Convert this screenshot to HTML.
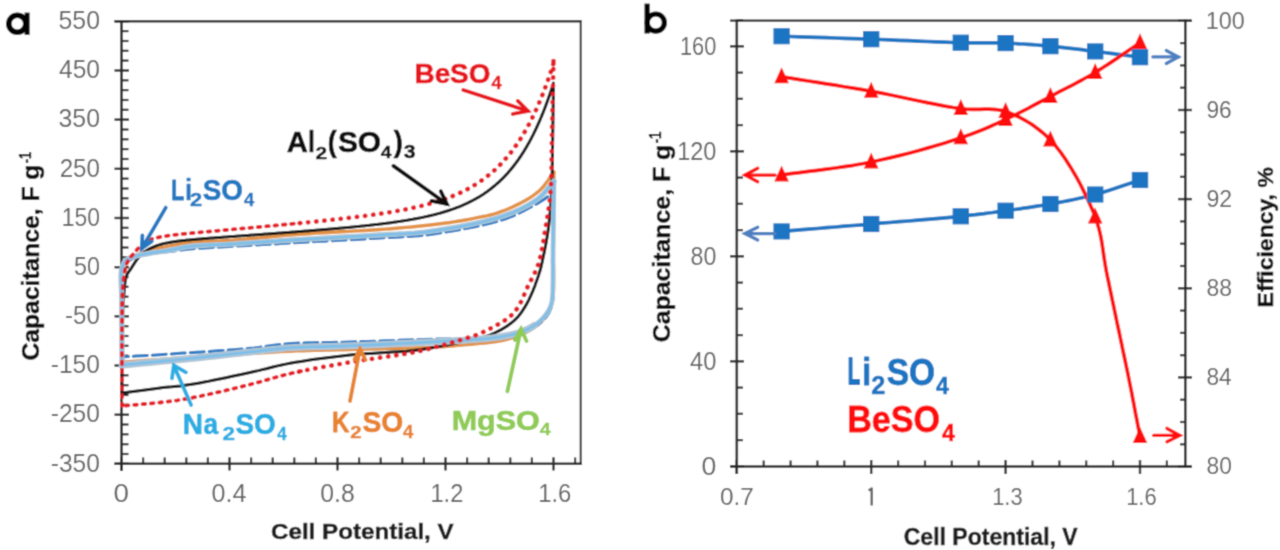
<!DOCTYPE html><html><head><meta charset="utf-8"><style>html,body{margin:0;padding:0;background:#fff;width:1280px;height:550px;overflow:hidden}svg{display:block}text{font-family:"Liberation Sans", sans-serif}</style></head><body>
<svg width="1280" height="550" viewBox="0 0 1280 550">
<defs><filter id="bl" x="0" y="0" width="1280" height="550" filterUnits="userSpaceOnUse"><feConvolveMatrix order="3" kernelMatrix="0.03240 0.11520 0.03240 0.11520 0.40960 0.11520 0.03240 0.11520 0.03240" edgeMode="duplicate" preserveAlpha="true"/></filter></defs><g filter="url(#bl)">
<rect width="1280" height="550" fill="#fff"/>
<line x1="114.5" y1="21.3" x2="581.0" y2="21.3" stroke="#2b2b2b" stroke-width="2.40" />
<line x1="580.7" y1="20.1" x2="580.7" y2="465.0" stroke="#2b2b2b" stroke-width="2.00" />
<line x1="121.5" y1="20.1" x2="121.5" y2="471.0" stroke="#2b2b2b" stroke-width="2.60" />
<line x1="114.5" y1="463.8" x2="581.8" y2="463.8" stroke="#2b2b2b" stroke-width="2.60" />
<line x1="114.5" y1="21.3" x2="129.0" y2="21.3" stroke="#2b2b2b" stroke-width="2.40" />
<line x1="121.5" y1="31.1" x2="128.5" y2="31.1" stroke="#2b2b2b" stroke-width="2.20" />
<line x1="121.5" y1="41.0" x2="128.5" y2="41.0" stroke="#2b2b2b" stroke-width="2.20" />
<line x1="121.5" y1="50.8" x2="128.5" y2="50.8" stroke="#2b2b2b" stroke-width="2.20" />
<line x1="121.5" y1="60.6" x2="128.5" y2="60.6" stroke="#2b2b2b" stroke-width="2.20" />
<line x1="114.5" y1="70.5" x2="129.0" y2="70.5" stroke="#2b2b2b" stroke-width="2.40" />
<line x1="121.5" y1="80.3" x2="128.5" y2="80.3" stroke="#2b2b2b" stroke-width="2.20" />
<line x1="121.5" y1="90.1" x2="128.5" y2="90.1" stroke="#2b2b2b" stroke-width="2.20" />
<line x1="121.5" y1="100.0" x2="128.5" y2="100.0" stroke="#2b2b2b" stroke-width="2.20" />
<line x1="121.5" y1="109.8" x2="128.5" y2="109.8" stroke="#2b2b2b" stroke-width="2.20" />
<line x1="114.5" y1="119.6" x2="129.0" y2="119.6" stroke="#2b2b2b" stroke-width="2.40" />
<line x1="121.5" y1="129.5" x2="128.5" y2="129.5" stroke="#2b2b2b" stroke-width="2.20" />
<line x1="121.5" y1="139.3" x2="128.5" y2="139.3" stroke="#2b2b2b" stroke-width="2.20" />
<line x1="121.5" y1="149.1" x2="128.5" y2="149.1" stroke="#2b2b2b" stroke-width="2.20" />
<line x1="121.5" y1="159.0" x2="128.5" y2="159.0" stroke="#2b2b2b" stroke-width="2.20" />
<line x1="114.5" y1="168.8" x2="129.0" y2="168.8" stroke="#2b2b2b" stroke-width="2.40" />
<line x1="121.5" y1="178.6" x2="128.5" y2="178.6" stroke="#2b2b2b" stroke-width="2.20" />
<line x1="121.5" y1="188.5" x2="128.5" y2="188.5" stroke="#2b2b2b" stroke-width="2.20" />
<line x1="121.5" y1="198.3" x2="128.5" y2="198.3" stroke="#2b2b2b" stroke-width="2.20" />
<line x1="121.5" y1="208.1" x2="128.5" y2="208.1" stroke="#2b2b2b" stroke-width="2.20" />
<line x1="114.5" y1="218.0" x2="129.0" y2="218.0" stroke="#2b2b2b" stroke-width="2.40" />
<line x1="121.5" y1="227.8" x2="128.5" y2="227.8" stroke="#2b2b2b" stroke-width="2.20" />
<line x1="121.5" y1="237.6" x2="128.5" y2="237.6" stroke="#2b2b2b" stroke-width="2.20" />
<line x1="121.5" y1="247.5" x2="128.5" y2="247.5" stroke="#2b2b2b" stroke-width="2.20" />
<line x1="121.5" y1="257.3" x2="128.5" y2="257.3" stroke="#2b2b2b" stroke-width="2.20" />
<line x1="114.5" y1="267.2" x2="129.0" y2="267.2" stroke="#2b2b2b" stroke-width="2.40" />
<line x1="121.5" y1="277.0" x2="128.5" y2="277.0" stroke="#2b2b2b" stroke-width="2.20" />
<line x1="121.5" y1="286.8" x2="128.5" y2="286.8" stroke="#2b2b2b" stroke-width="2.20" />
<line x1="121.5" y1="296.7" x2="128.5" y2="296.7" stroke="#2b2b2b" stroke-width="2.20" />
<line x1="121.5" y1="306.5" x2="128.5" y2="306.5" stroke="#2b2b2b" stroke-width="2.20" />
<line x1="114.5" y1="316.3" x2="129.0" y2="316.3" stroke="#2b2b2b" stroke-width="2.40" />
<line x1="121.5" y1="326.2" x2="128.5" y2="326.2" stroke="#2b2b2b" stroke-width="2.20" />
<line x1="121.5" y1="336.0" x2="128.5" y2="336.0" stroke="#2b2b2b" stroke-width="2.20" />
<line x1="121.5" y1="345.8" x2="128.5" y2="345.8" stroke="#2b2b2b" stroke-width="2.20" />
<line x1="121.5" y1="355.7" x2="128.5" y2="355.7" stroke="#2b2b2b" stroke-width="2.20" />
<line x1="114.5" y1="365.5" x2="129.0" y2="365.5" stroke="#2b2b2b" stroke-width="2.40" />
<line x1="121.5" y1="375.3" x2="128.5" y2="375.3" stroke="#2b2b2b" stroke-width="2.20" />
<line x1="121.5" y1="385.2" x2="128.5" y2="385.2" stroke="#2b2b2b" stroke-width="2.20" />
<line x1="121.5" y1="395.0" x2="128.5" y2="395.0" stroke="#2b2b2b" stroke-width="2.20" />
<line x1="121.5" y1="404.8" x2="128.5" y2="404.8" stroke="#2b2b2b" stroke-width="2.20" />
<line x1="114.5" y1="414.7" x2="129.0" y2="414.7" stroke="#2b2b2b" stroke-width="2.40" />
<line x1="121.5" y1="424.5" x2="128.5" y2="424.5" stroke="#2b2b2b" stroke-width="2.20" />
<line x1="121.5" y1="434.3" x2="128.5" y2="434.3" stroke="#2b2b2b" stroke-width="2.20" />
<line x1="121.5" y1="444.2" x2="128.5" y2="444.2" stroke="#2b2b2b" stroke-width="2.20" />
<line x1="121.5" y1="454.0" x2="128.5" y2="454.0" stroke="#2b2b2b" stroke-width="2.20" />
<line x1="114.5" y1="463.8" x2="129.0" y2="463.8" stroke="#2b2b2b" stroke-width="2.40" />
<line x1="121.5" y1="457.3" x2="121.5" y2="470.5" stroke="#2b2b2b" stroke-width="2.40" />
<line x1="143.1" y1="457.5" x2="143.1" y2="463.8" stroke="#2b2b2b" stroke-width="2.20" />
<line x1="164.7" y1="457.5" x2="164.7" y2="463.8" stroke="#2b2b2b" stroke-width="2.20" />
<line x1="186.3" y1="457.5" x2="186.3" y2="463.8" stroke="#2b2b2b" stroke-width="2.20" />
<line x1="207.9" y1="457.5" x2="207.9" y2="463.8" stroke="#2b2b2b" stroke-width="2.20" />
<line x1="229.5" y1="457.3" x2="229.5" y2="470.5" stroke="#2b2b2b" stroke-width="2.40" />
<line x1="251.1" y1="457.5" x2="251.1" y2="463.8" stroke="#2b2b2b" stroke-width="2.20" />
<line x1="272.7" y1="457.5" x2="272.7" y2="463.8" stroke="#2b2b2b" stroke-width="2.20" />
<line x1="294.3" y1="457.5" x2="294.3" y2="463.8" stroke="#2b2b2b" stroke-width="2.20" />
<line x1="315.9" y1="457.5" x2="315.9" y2="463.8" stroke="#2b2b2b" stroke-width="2.20" />
<line x1="337.5" y1="457.3" x2="337.5" y2="470.5" stroke="#2b2b2b" stroke-width="2.40" />
<line x1="359.1" y1="457.5" x2="359.1" y2="463.8" stroke="#2b2b2b" stroke-width="2.20" />
<line x1="380.7" y1="457.5" x2="380.7" y2="463.8" stroke="#2b2b2b" stroke-width="2.20" />
<line x1="402.3" y1="457.5" x2="402.3" y2="463.8" stroke="#2b2b2b" stroke-width="2.20" />
<line x1="423.9" y1="457.5" x2="423.9" y2="463.8" stroke="#2b2b2b" stroke-width="2.20" />
<line x1="445.5" y1="457.3" x2="445.5" y2="470.5" stroke="#2b2b2b" stroke-width="2.40" />
<line x1="467.1" y1="457.5" x2="467.1" y2="463.8" stroke="#2b2b2b" stroke-width="2.20" />
<line x1="488.7" y1="457.5" x2="488.7" y2="463.8" stroke="#2b2b2b" stroke-width="2.20" />
<line x1="510.3" y1="457.5" x2="510.3" y2="463.8" stroke="#2b2b2b" stroke-width="2.20" />
<line x1="531.9" y1="457.5" x2="531.9" y2="463.8" stroke="#2b2b2b" stroke-width="2.20" />
<line x1="553.5" y1="457.3" x2="553.5" y2="470.5" stroke="#2b2b2b" stroke-width="2.40" />
<line x1="575.1" y1="457.5" x2="575.1" y2="463.8" stroke="#2b2b2b" stroke-width="2.20" />
<text x="58.51" y="29.04" font-size="25.92" fill="#626262" font-weight="normal" textLength="41.45" lengthAdjust="spacingAndGlyphs" >550</text>
<text x="59.01" y="78.21" font-size="25.92" fill="#626262" font-weight="normal" textLength="40.94" lengthAdjust="spacingAndGlyphs" >450</text>
<text x="58.51" y="127.38" font-size="25.92" fill="#626262" font-weight="normal" textLength="41.45" lengthAdjust="spacingAndGlyphs" >350</text>
<text x="59.69" y="176.55" font-size="25.92" fill="#626262" font-weight="normal" textLength="40.23" lengthAdjust="spacingAndGlyphs" >250</text>
<text x="61.68" y="225.72" font-size="25.92" fill="#626262" font-weight="normal" textLength="38.20" lengthAdjust="spacingAndGlyphs" >150</text>
<text x="73.97" y="274.89" font-size="25.92" fill="#626262" font-weight="normal" textLength="25.90" lengthAdjust="spacingAndGlyphs" >50</text>
<text x="65.12" y="324.06" font-size="25.92" fill="#626262" font-weight="normal" textLength="34.73" lengthAdjust="spacingAndGlyphs" >-50</text>
<text x="50.80" y="373.23" font-size="25.92" fill="#626262" font-weight="normal" textLength="49.10" lengthAdjust="spacingAndGlyphs" >-150</text>
<text x="50.80" y="422.40" font-size="25.92" fill="#626262" font-weight="normal" textLength="49.10" lengthAdjust="spacingAndGlyphs" >-250</text>
<text x="50.80" y="471.57" font-size="25.92" fill="#626262" font-weight="normal" textLength="49.10" lengthAdjust="spacingAndGlyphs" >-350</text>
<text x="113.64" y="501.94" font-size="25.63" fill="#626262" font-weight="normal" textLength="15.47" lengthAdjust="spacingAndGlyphs" >0</text>
<text x="211.50" y="501.94" font-size="25.63" fill="#626262" font-weight="normal" textLength="34.86" lengthAdjust="spacingAndGlyphs" >0.4</text>
<text x="320.31" y="501.94" font-size="25.63" fill="#626262" font-weight="normal" textLength="34.49" lengthAdjust="spacingAndGlyphs" >0.8</text>
<text x="430.43" y="501.94" font-size="25.63" fill="#626262" font-weight="normal" textLength="32.86" lengthAdjust="spacingAndGlyphs" >1.2</text>
<text x="538.21" y="501.94" font-size="25.63" fill="#626262" font-weight="normal" textLength="33.15" lengthAdjust="spacingAndGlyphs" >1.6</text>
<text x="270.99" y="538.52" font-size="22.95" fill="#1c1c1c" font-weight="bold" textLength="182.69" lengthAdjust="spacingAndGlyphs"  stroke="#1c1c1c" stroke-width="0.51" stroke-linejoin="round">Cell Potential, V</text>
<g transform="translate(38.60,359.60) rotate(-90)">
<text x="-0.99" y="0.00" font-size="24.35" fill="#111" font-weight="bold" textLength="196.04" lengthAdjust="spacingAndGlyphs" stroke="#111" stroke-width="0.45">Capacitance, F g</text>
<text x="196.26" y="-8.08" font-size="16.01" fill="#111" font-weight="bold" textLength="11.47" lengthAdjust="spacingAndGlyphs"  stroke="#111" stroke-width="0.35" stroke-linejoin="round">-1</text>
</g>
<circle cx="17.3" cy="23.7" r="8.5" fill="none" stroke="#000" stroke-width="5.6"/>
<rect x="24.6" y="12.6" width="5" height="22.2" fill="#000"/>
<path d="M554.0,172.0 L554.0,179.9 L553.9,187.9 L553.9,196.0 L553.8,204.1 L553.8,212.2 L553.7,220.2 L553.7,228.0 L553.6,235.6 L553.6,243.0 L553.5,250.0 L553.5,255.4 L553.5,260.9 L553.6,266.3 L553.7,271.6 L553.7,276.7 L553.7,281.7 L553.7,286.3 L553.6,290.7 L553.3,294.6 L553.0,298.0 L552.8,299.5 L552.6,301.0 L552.4,302.3 L552.1,303.5 L551.9,304.6 L551.6,305.7 L551.3,306.8 L550.9,307.9 L550.5,308.9 L550.0,310.0 L549.5,311.1 L548.9,312.1 L548.3,313.2 L547.6,314.2 L546.9,315.2 L546.2,316.2 L545.5,317.2 L544.7,318.1 L543.8,319.1 L543.0,320.0 L542.1,321.0 L541.1,322.0 L540.0,322.9 L539.0,323.8 L537.9,324.8 L536.7,325.7 L535.6,326.5 L534.4,327.4 L533.2,328.2 L532.0,329.0 L530.7,329.8 L529.4,330.6 L528.1,331.4 L526.7,332.1 L525.3,332.8 L523.9,333.5 L522.5,334.1 L521.0,334.8 L519.5,335.4 L518.0,336.0 L516.3,336.6 L514.7,337.2 L513.0,337.8 L511.4,338.3 L509.6,338.8 L507.9,339.3 L506.0,339.7 L504.1,340.2 L502.1,340.6 L500.0,341.0 L496.6,341.6 L492.8,342.1 L488.8,342.6 L484.5,343.1 L480.2,343.5 L475.8,343.9 L471.5,344.3 L467.4,344.6 L463.5,345.0 L460.0,345.3 L457.8,345.5 L455.8,345.7 L454.0,345.9 L452.2,346.1 L450.5,346.2 L448.7,346.4 L446.8,346.5 L444.8,346.7 L442.6,346.8 L440.0,347.0 L433.5,347.3 L425.9,347.6 L417.2,347.9 L407.8,348.2 L397.9,348.4 L387.8,348.7 L377.7,348.9 L367.9,349.1 L358.6,349.4 L350.0,349.6 L343.6,349.8 L337.5,349.9 L331.6,350.1 L325.9,350.2 L320.2,350.3 L314.5,350.4 L308.7,350.6 L302.8,350.8 L296.6,351.0 L290.0,351.3 L280.9,351.7 L271.3,352.3 L261.3,352.9 L250.9,353.5 L240.4,354.2 L229.8,354.9 L219.4,355.6 L209.2,356.2 L199.3,356.9 L190.0,357.5 L182.7,358.0 L175.6,358.4 L168.6,358.9 L161.9,359.3 L155.2,359.8 L148.6,360.2 L142.0,360.7 L135.4,361.1 L128.7,361.6 L122.0,362.0" fill="none" stroke="#e39244" stroke-width="3.20" stroke-linejoin="round" stroke-linecap="round" />
<path d="M122.0,362.0 L122.0,355.7 L122.0,349.2 L122.0,342.6 L122.0,336.0 L121.9,329.5 L121.9,323.0 L121.9,316.8 L121.9,310.8 L122.0,305.2 L122.0,300.0 L122.0,296.7 L121.9,293.5 L121.9,290.3 L121.8,287.3 L121.7,284.4 L121.7,281.6 L121.7,279.0 L121.9,276.5 L122.1,274.2 L122.5,272.0 L122.8,270.8 L123.1,269.6 L123.4,268.5 L123.8,267.5 L124.2,266.5 L124.6,265.5 L125.1,264.6 L125.7,263.7 L126.3,262.9 L127.0,262.0 L127.9,261.0 L129.0,260.0 L130.2,259.1 L131.4,258.2 L132.7,257.3 L134.1,256.5 L135.5,255.7 L137.0,254.9 L138.5,254.2 L140.0,253.5 L141.8,252.8 L143.6,252.1 L145.5,251.5 L147.4,250.9 L149.4,250.4 L151.4,249.9 L153.5,249.4 L155.6,249.0 L157.8,248.5 L160.0,248.0 L162.7,247.4 L165.5,246.8 L168.4,246.2 L171.3,245.6 L174.3,245.1 L177.4,244.5 L180.5,244.0 L183.6,243.5 L186.8,243.1 L190.0,242.7 L193.7,242.3 L197.4,242.0 L201.2,241.8 L205.0,241.6 L208.9,241.5 L212.9,241.3 L217.0,241.2 L221.2,241.0 L225.5,240.8 L230.0,240.5 L236.2,240.0 L242.7,239.5 L249.4,238.8 L256.4,238.2 L263.5,237.5 L270.7,236.8 L278.0,236.1 L285.4,235.4 L292.7,234.8 L300.0,234.2 L307.9,233.7 L316.0,233.1 L324.2,232.7 L332.5,232.2 L340.8,231.8 L349.1,231.4 L357.2,230.9 L365.1,230.5 L372.7,230.0 L380.0,229.5 L385.5,229.1 L390.9,228.7 L396.1,228.3 L401.2,227.8 L406.1,227.4 L411.0,227.0 L415.8,226.5 L420.6,226.0 L425.3,225.5 L430.0,225.0 L434.1,224.5 L438.2,224.0 L442.1,223.5 L446.1,223.0 L450.0,222.5 L453.8,221.9 L457.7,221.3 L461.4,220.7 L465.2,220.0 L469.0,219.3 L472.6,218.6 L476.1,217.9 L479.6,217.2 L483.1,216.5 L486.6,215.8 L490.1,215.0 L493.5,214.1 L496.9,213.1 L500.3,211.9 L503.7,210.7 L507.3,209.2 L511.0,207.7 L514.7,205.9 L518.4,204.1 L522.1,202.2 L525.7,200.2 L529.1,198.2 L532.4,196.1 L535.4,193.9 L538.2,191.7 L540.2,189.9 L542.0,188.0 L543.7,186.1 L545.3,184.1 L546.8,182.1 L548.2,180.1 L549.6,178.0 L551.0,176.0 L552.5,174.0 L554.0,172.0" fill="none" stroke="#e39244" stroke-width="3.40" stroke-linejoin="round" stroke-linecap="round" />
<path d="M553.5,84.0 L553.4,90.7 L553.3,97.4 L553.2,104.2 L553.1,111.1 L553.0,117.9 L552.9,124.6 L552.8,131.2 L552.7,137.7 L552.6,144.0 L552.5,150.0 L552.4,154.7 L552.4,159.2 L552.3,163.7 L552.2,168.0 L552.2,172.2 L552.1,176.4 L552.0,180.6 L551.9,184.7 L551.7,188.9 L551.5,193.0 L551.3,196.9 L551.0,200.9 L550.7,204.8 L550.4,208.7 L550.1,212.6 L549.7,216.4 L549.3,220.2 L548.9,223.9 L548.5,227.5 L548.0,231.0 L547.6,233.9 L547.1,236.9 L546.6,239.8 L546.1,242.7 L545.6,245.5 L545.0,248.2 L544.5,250.9 L544.0,253.4 L543.5,255.8 L543.0,258.0 L542.7,259.4 L542.4,260.7 L542.2,262.0 L541.9,263.2 L541.6,264.4 L541.4,265.5 L541.1,266.7 L540.8,267.8 L540.5,268.9 L540.2,270.0 L539.9,271.0 L539.6,272.0 L539.3,273.0 L539.0,273.9 L538.7,274.9 L538.4,275.8 L538.1,276.8 L537.7,277.8 L537.4,278.8 L537.0,279.8 L536.6,281.0 L536.1,282.3 L535.6,283.6 L535.2,284.9 L534.7,286.3 L534.2,287.6 L533.6,288.9 L533.1,290.3 L532.6,291.6 L532.0,292.9 L531.4,294.2 L530.8,295.6 L530.2,296.9 L529.6,298.2 L529.0,299.6 L528.3,300.9 L527.6,302.2 L526.9,303.5 L526.2,304.7 L525.5,306.0 L524.8,307.2 L524.0,308.4 L523.2,309.6 L522.5,310.8 L521.6,312.0 L520.8,313.2 L520.0,314.3 L519.1,315.4 L518.2,316.5 L517.3,317.5 L516.4,318.4 L515.5,319.3 L514.5,320.2 L513.6,321.1 L512.6,321.9 L511.6,322.7 L510.5,323.5 L509.5,324.2 L508.5,325.0 L507.5,325.7 L506.6,326.4 L505.6,327.0 L504.7,327.6 L503.7,328.1 L502.7,328.7 L501.8,329.3 L500.8,329.8 L499.8,330.3 L498.8,330.9 L497.7,331.4 L496.5,332.0 L495.2,332.7 L493.8,333.3 L492.5,333.9 L491.1,334.5 L489.8,335.1 L488.4,335.7 L487.1,336.2 L485.8,336.7 L484.6,337.1 L483.7,337.4 L483.0,337.6 L482.3,337.7 L481.6,337.9 L480.9,338.0 L480.1,338.1 L479.4,338.3 L478.5,338.4 L477.5,338.6 L476.4,338.8 L472.8,339.5 L468.5,340.5 L463.4,341.6 L457.8,342.8 L451.8,344.0 L445.5,345.3 L439.0,346.6 L432.5,347.7 L426.1,348.8 L420.0,349.7 L413.3,350.5 L406.4,351.2 L399.4,351.7 L392.3,352.1 L385.2,352.6 L378.0,352.9 L370.8,353.4 L363.8,353.8 L356.8,354.3 L350.0,355.0 L343.7,355.7 L337.5,356.4 L331.3,357.2 L325.1,357.9 L318.9,358.7 L312.9,359.6 L306.9,360.5 L301.1,361.4 L295.5,362.3 L290.0,363.3 L285.7,364.1 L281.6,365.0 L277.6,365.9 L273.8,366.8 L270.0,367.7 L266.2,368.7 L262.3,369.6 L258.4,370.6 L254.3,371.5 L250.0,372.5 L244.4,373.7 L238.5,375.0 L232.3,376.3 L225.9,377.7 L219.5,379.0 L213.1,380.3 L206.9,381.6 L200.9,382.7 L195.2,383.7 L190.0,384.6 L186.6,385.1 L183.4,385.5 L180.4,385.9 L177.4,386.2 L174.6,386.5 L171.8,386.8 L168.9,387.0 L166.1,387.3 L163.1,387.6 L160.0,388.0 L156.4,388.4 L152.7,388.9 L148.9,389.4 L145.1,389.9 L141.3,390.4 L137.4,390.9 L133.5,391.5 L129.7,392.0 L125.8,392.5 L122.0,393.0" fill="none" stroke="#161616" stroke-width="3.00" stroke-linejoin="round" stroke-linecap="round" />
<path d="M122.0,393.0 L122.0,387.7 L122.0,382.3 L122.0,376.9 L122.0,371.4 L122.0,366.0 L122.0,360.7 L122.0,355.4 L122.1,350.1 L122.1,345.0 L122.2,340.0 L122.3,335.7 L122.3,331.5 L122.4,327.3 L122.5,323.1 L122.6,319.0 L122.7,315.0 L122.9,311.1 L123.0,307.3 L123.2,303.6 L123.5,300.0 L123.7,297.3 L123.9,294.6 L124.1,291.9 L124.3,289.3 L124.5,286.7 L124.8,284.3 L125.1,281.9 L125.5,279.8 L126.0,277.8 L126.5,276.0 L126.9,275.1 L127.2,274.2 L127.7,273.4 L128.1,272.7 L128.5,272.1 L129.0,271.4 L129.5,270.8 L130.0,270.1 L130.5,269.4 L131.0,268.6 L131.7,267.5 L132.4,266.4 L133.2,265.2 L134.0,263.9 L134.8,262.7 L135.6,261.5 L136.4,260.3 L137.3,259.1 L138.1,258.0 L139.0,257.0 L139.8,256.2 L140.5,255.4 L141.3,254.7 L142.1,254.0 L142.9,253.3 L143.7,252.6 L144.5,252.0 L145.3,251.4 L146.2,250.8 L147.0,250.3 L147.8,249.8 L148.6,249.3 L149.3,248.9 L150.1,248.5 L150.9,248.1 L151.8,247.7 L152.6,247.3 L153.4,247.0 L154.2,246.6 L155.0,246.3 L155.8,246.0 L156.6,245.7 L157.4,245.4 L158.2,245.1 L159.0,244.9 L159.8,244.7 L160.6,244.4 L161.4,244.2 L162.2,244.0 L163.0,243.8 L163.8,243.6 L164.6,243.4 L165.4,243.2 L166.2,243.1 L167.0,242.9 L167.8,242.8 L168.6,242.6 L169.4,242.5 L170.2,242.3 L171.0,242.2 L171.8,242.0 L172.6,241.9 L173.4,241.8 L174.2,241.7 L175.0,241.5 L175.8,241.4 L176.6,241.3 L177.4,241.2 L178.2,241.1 L179.0,241.0 L179.8,240.9 L180.6,240.8 L181.4,240.7 L182.2,240.6 L183.0,240.5 L183.8,240.5 L184.6,240.4 L185.4,240.3 L186.2,240.2 L187.0,240.1 L187.8,240.0 L188.6,240.0 L189.4,239.9 L190.2,239.8 L191.0,239.7 L191.8,239.7 L192.6,239.6 L193.4,239.5 L194.2,239.4 L195.0,239.4 L195.8,239.3 L196.6,239.2 L197.4,239.2 L198.2,239.1 L199.0,239.0 L199.8,239.0 L200.6,238.9 L201.4,238.8 L202.2,238.8 L203.0,238.7 L203.8,238.6 L204.6,238.6 L205.4,238.5 L206.2,238.4 L207.0,238.4 L207.8,238.3 L208.6,238.3 L209.4,238.2 L210.2,238.1 L211.0,238.1 L211.8,238.0 L212.6,238.0 L213.4,237.9 L214.2,237.8 L215.0,237.8 L215.8,237.7 L216.6,237.7 L217.4,237.6 L218.2,237.5 L219.0,237.5 L219.8,237.4 L220.6,237.4 L221.4,237.3 L222.2,237.2 L223.0,237.2 L223.8,237.1 L224.6,237.1 L225.4,237.0 L226.2,236.9 L227.0,236.9 L227.8,236.8 L228.6,236.8 L229.4,236.7 L230.2,236.6 L231.0,236.6 L231.8,236.5 L232.6,236.5 L233.4,236.4 L234.2,236.4 L235.0,236.3 L235.8,236.2 L236.6,236.2 L237.4,236.1 L238.2,236.1 L239.0,236.0 L239.8,236.0 L240.6,235.9 L241.4,235.8 L242.2,235.8 L243.0,235.7 L243.8,235.7 L244.6,235.6 L245.4,235.5 L246.2,235.5 L247.0,235.4 L247.8,235.4 L248.6,235.3 L249.4,235.3 L250.2,235.2 L251.0,235.1 L251.8,235.1 L252.6,235.0 L253.4,235.0 L254.2,234.9 L255.0,234.8 L255.8,234.8 L256.6,234.7 L257.4,234.7 L258.2,234.6 L259.0,234.6 L259.8,234.5 L260.6,234.4 L261.4,234.4 L262.2,234.3 L263.0,234.3 L263.8,234.2 L264.6,234.1 L265.4,234.1 L266.2,234.0 L267.0,234.0 L267.8,233.9 L268.6,233.8 L269.4,233.8 L270.2,233.7 L271.0,233.7 L271.8,233.6 L272.6,233.6 L273.4,233.5 L274.2,233.4 L275.0,233.4 L275.8,233.3 L276.6,233.3 L277.4,233.2 L278.2,233.1 L279.0,233.1 L279.8,233.0 L280.6,233.0 L281.4,232.9 L282.2,232.8 L283.0,232.8 L283.8,232.7 L284.6,232.7 L285.4,232.6 L286.2,232.5 L287.0,232.5 L287.8,232.4 L288.6,232.4 L289.4,232.3 L290.2,232.2 L291.0,232.2 L291.8,232.1 L292.6,232.0 L293.4,232.0 L294.2,231.9 L295.0,231.9 L295.8,231.8 L296.6,231.7 L297.4,231.7 L298.2,231.6 L299.0,231.6 L299.8,231.5 L300.6,231.4 L301.4,231.4 L302.2,231.3 L303.0,231.2 L303.8,231.2 L304.6,231.1 L305.4,231.1 L306.2,231.0 L307.0,230.9 L307.8,230.9 L308.6,230.8 L309.4,230.7 L310.2,230.7 L311.0,230.6 L311.8,230.5 L312.6,230.5 L313.4,230.4 L314.2,230.4 L315.0,230.3 L315.8,230.2 L316.6,230.2 L317.4,230.1 L318.2,230.0 L319.0,230.0 L319.8,229.9 L320.6,229.8 L321.4,229.8 L322.2,229.7 L323.0,229.6 L323.8,229.6 L324.6,229.5 L325.4,229.4 L326.2,229.4 L327.0,229.3 L327.8,229.2 L328.6,229.2 L329.4,229.1 L330.2,229.0 L331.0,229.0 L331.8,228.9 L332.6,228.8 L333.4,228.8 L334.2,228.7 L335.0,228.6 L335.8,228.5 L336.6,228.5 L337.4,228.4 L338.2,228.3 L339.0,228.3 L339.8,228.2 L340.6,228.1 L341.4,228.0 L342.2,228.0 L343.0,227.9 L343.8,227.8 L344.6,227.8 L345.4,227.7 L346.2,227.6 L347.0,227.5 L347.8,227.5 L348.6,227.4 L349.4,227.3 L350.2,227.2 L351.0,227.2 L351.8,227.1 L352.6,227.0 L353.4,226.9 L354.2,226.8 L355.0,226.8 L355.8,226.7 L356.6,226.6 L357.4,226.5 L358.2,226.4 L359.0,226.4 L359.8,226.3 L360.6,226.2 L361.4,226.1 L362.2,226.0 L363.0,226.0 L363.8,225.9 L364.6,225.8 L365.4,225.7 L366.2,225.6 L367.0,225.5 L367.8,225.4 L368.6,225.4 L369.4,225.3 L370.2,225.2 L371.0,225.1 L371.8,225.0 L372.6,224.9 L373.4,224.8 L374.2,224.7 L375.0,224.6 L375.8,224.6 L376.6,224.5 L377.4,224.4 L378.2,224.3 L379.0,224.2 L379.8,224.1 L380.6,224.0 L381.4,223.9 L382.2,223.8 L383.0,223.7 L383.8,223.6 L384.6,223.5 L385.4,223.4 L386.2,223.3 L387.0,223.2 L387.8,223.1 L388.6,223.0 L389.4,222.9 L390.2,222.8 L391.0,222.7 L391.8,222.5 L392.6,222.4 L393.4,222.3 L394.2,222.2 L395.0,222.1 L395.8,222.0 L396.6,221.9 L397.4,221.7 L398.2,221.6 L399.0,221.5 L399.8,221.4 L400.6,221.3 L401.4,221.1 L402.2,221.0 L403.0,220.9 L403.8,220.8 L404.6,220.6 L405.4,220.5 L406.2,220.4 L407.0,220.3 L407.8,220.1 L408.6,220.0 L409.4,219.8 L410.2,219.7 L411.0,219.6 L411.8,219.4 L412.6,219.3 L413.4,219.1 L414.2,219.0 L415.0,218.8 L415.8,218.7 L416.6,218.5 L417.4,218.4 L418.2,218.2 L419.0,218.1 L419.8,217.9 L420.6,217.8 L421.4,217.6 L422.2,217.4 L423.0,217.3 L423.8,217.1 L424.6,216.9 L425.4,216.7 L426.2,216.6 L427.0,216.4 L427.8,216.2 L428.6,216.0 L429.4,215.8 L430.2,215.7 L431.0,215.5 L431.8,215.3 L432.6,215.1 L433.4,214.9 L434.2,214.7 L435.0,214.5 L435.8,214.3 L436.6,214.1 L437.4,213.8 L438.2,213.6 L439.0,213.4 L439.8,213.2 L440.6,213.0 L441.4,212.7 L442.2,212.5 L443.0,212.3 L443.8,212.0 L444.6,211.8 L445.4,211.5 L446.2,211.3 L447.0,211.0 L447.8,210.8 L448.6,210.5 L449.4,210.3 L450.2,210.0 L451.0,209.7 L451.8,209.4 L452.6,209.2 L453.4,208.9 L454.2,208.6 L455.0,208.3 L455.8,208.0 L456.6,207.7 L457.4,207.4 L458.2,207.1 L459.0,206.8 L459.8,206.4 L460.6,206.1 L461.4,205.8 L462.2,205.4 L463.0,205.1 L463.8,204.7 L464.6,204.4 L465.4,204.0 L466.2,203.7 L467.0,203.3 L467.8,202.9 L468.6,202.5 L469.4,202.1 L470.2,201.7 L471.0,201.3 L471.8,200.9 L472.6,200.5 L473.4,200.1 L474.2,199.6 L475.0,199.2 L475.8,198.8 L476.6,198.3 L477.4,197.8 L478.2,197.4 L479.0,196.9 L479.8,196.4 L480.6,195.9 L481.4,195.4 L482.2,194.9 L483.0,194.4 L483.8,193.9 L484.6,193.3 L485.4,192.8 L486.2,192.2 L487.0,191.7 L487.8,191.1 L488.6,190.5 L489.4,189.9 L490.2,189.3 L491.0,188.7 L491.8,188.0 L492.7,187.3 L493.7,186.5 L494.6,185.8 L495.5,185.0 L496.4,184.2 L497.2,183.5 L497.9,182.9 L498.5,182.4 L499.0,181.9 L499.1,181.8 L499.3,181.7 L499.4,181.6 L499.4,181.5 L499.5,181.5 L499.6,181.4 L499.7,181.3 L499.8,181.2 L499.9,181.1 L500.0,181.0 L500.3,180.7 L500.6,180.4 L501.0,180.0 L501.4,179.6 L501.8,179.2 L502.3,178.8 L502.7,178.3 L503.2,177.9 L503.6,177.5 L504.0,177.1 L504.4,176.6 L504.8,176.2 L505.2,175.8 L505.6,175.4 L506.0,174.9 L506.4,174.5 L506.8,174.1 L507.2,173.6 L507.6,173.2 L508.0,172.8 L508.4,172.3 L508.8,171.8 L509.2,171.4 L509.6,170.9 L510.0,170.4 L510.4,170.0 L510.8,169.5 L511.2,169.0 L511.6,168.5 L512.0,168.0 L512.4,167.5 L512.8,167.0 L513.2,166.5 L513.6,166.0 L514.0,165.5 L514.4,165.0 L514.8,164.5 L515.2,163.9 L515.6,163.4 L516.0,162.9 L516.4,162.3 L516.8,161.8 L517.2,161.2 L517.6,160.7 L518.0,160.1 L518.4,159.6 L518.8,159.0 L519.2,158.4 L519.6,157.8 L520.0,157.3 L520.4,156.7 L520.8,156.1 L521.2,155.4 L521.6,154.8 L522.0,154.2 L522.4,153.6 L522.8,153.0 L523.2,152.4 L523.6,151.7 L524.0,151.1 L524.4,150.4 L524.8,149.8 L525.2,149.1 L525.6,148.4 L526.0,147.8 L526.4,147.1 L526.8,146.4 L527.2,145.7 L527.6,145.0 L528.0,144.3 L528.4,143.6 L528.8,142.9 L529.2,142.2 L529.6,141.4 L530.0,140.7 L530.4,139.9 L530.8,139.2 L531.2,138.5 L531.6,137.7 L532.0,136.9 L532.4,136.1 L532.8,135.4 L533.2,134.6 L533.6,133.8 L534.0,132.9 L534.4,132.1 L534.8,131.3 L535.2,130.5 L535.6,129.7 L536.0,128.8 L536.4,128.0 L536.8,127.1 L537.2,126.2 L537.6,125.3 L538.0,124.5 L538.4,123.6 L538.8,122.7 L539.2,121.8 L539.6,120.9 L540.0,119.9 L540.4,119.0 L540.8,118.0 L541.2,117.1 L541.6,116.1 L542.0,115.1 L542.4,114.2 L542.8,113.2 L543.2,112.2 L543.6,111.2 L544.0,110.2 L544.4,109.2 L544.8,108.1 L545.2,107.1 L545.6,106.0 L546.0,104.9 L546.4,103.9 L546.8,102.8 L547.2,101.7 L547.6,100.6 L548.0,99.5 L548.4,98.3 L548.8,97.1 L549.3,95.9 L549.7,94.6 L550.1,93.4 L550.6,92.1 L551.0,90.9 L551.3,89.8 L551.7,88.8 L552.0,87.8 L552.2,87.2 L552.4,86.7 L552.5,86.2 L552.7,85.8 L552.8,85.3 L552.9,84.9 L553.1,84.5 L553.2,84.0 L553.4,83.6 L553.5,83.1" fill="none" stroke="#161616" stroke-width="3.00" stroke-linejoin="round" stroke-linecap="round" />
<path d="M553.0,192.0 L552.9,197.8 L552.9,203.7 L552.8,209.6 L552.7,215.5 L552.7,221.3 L552.6,227.2 L552.6,233.0 L552.5,238.8 L552.5,244.4 L552.5,250.0 L552.5,255.2 L552.6,260.5 L552.8,266.0 L552.9,271.5 L553.1,276.8 L553.2,281.9 L553.3,286.7 L553.3,291.1 L553.2,294.9 L553.0,298.0 L552.9,299.1 L552.8,300.0 L552.7,300.9 L552.6,301.7 L552.4,302.4 L552.3,303.1 L552.1,303.8 L551.9,304.5 L551.7,305.2 L551.5,306.0 L551.2,306.9 L550.9,307.8 L550.6,308.7 L550.2,309.7 L549.8,310.6 L549.4,311.5 L549.0,312.4 L548.5,313.3 L548.0,314.2 L547.5,315.0 L546.9,315.9 L546.2,316.7 L545.6,317.6 L544.8,318.4 L544.1,319.2 L543.3,320.0 L542.5,320.7 L541.7,321.5 L540.8,322.3 L540.0,323.0 L539.1,323.8 L538.2,324.5 L537.2,325.3 L536.2,326.0 L535.2,326.7 L534.2,327.4 L533.2,328.1 L532.1,328.8 L531.1,329.4 L530.0,330.0 L528.9,330.6 L527.7,331.2 L526.6,331.7 L525.4,332.3 L524.2,332.8 L522.9,333.3 L521.7,333.8 L520.5,334.2 L519.2,334.6 L518.0,335.0 L516.7,335.4 L515.5,335.7 L514.2,336.0 L512.9,336.2 L511.6,336.5 L510.3,336.7 L509.0,336.9 L507.7,337.1 L506.3,337.3 L505.0,337.5 L503.6,337.7 L502.2,337.9 L500.9,338.1 L499.5,338.2 L498.1,338.4 L496.7,338.5 L495.2,338.7 L493.6,338.8 L491.9,338.9 L490.0,339.0 L486.3,339.1 L482.1,339.2 L477.6,339.2 L472.8,339.2 L467.7,339.1 L462.5,339.0 L457.0,339.0 L451.4,338.9 L445.7,338.9 L440.0,339.0 L432.0,339.2 L423.4,339.4 L414.4,339.7 L405.0,340.0 L395.5,340.4 L386.0,340.7 L376.5,341.1 L367.3,341.4 L358.4,341.7 L350.0,342.0 L343.5,342.2 L337.0,342.3 L330.7,342.4 L324.5,342.5 L318.5,342.6 L312.5,342.7 L306.7,342.8 L301.0,343.0 L295.4,343.3 L290.0,343.6 L285.7,344.0 L281.6,344.4 L277.7,344.8 L273.8,345.3 L270.0,345.8 L266.2,346.3 L262.3,346.9 L258.4,347.4 L254.3,347.9 L250.0,348.3 L244.5,348.8 L238.8,349.3 L233.0,349.7 L227.1,350.2 L221.0,350.6 L214.9,351.0 L208.7,351.5 L202.4,351.9 L196.2,352.3 L190.0,352.7 L183.4,353.1 L176.7,353.6 L169.9,354.0 L163.1,354.4 L156.3,354.9 L149.4,355.3 L142.5,355.7 L135.7,356.1 L128.8,356.6 L122.0,357.0" fill="none" stroke="#2a7cc4" stroke-width="3.00" stroke-linejoin="round" stroke-linecap="round" stroke-dasharray="14 5" stroke-linecap="butt"/>
<path d="M122.0,357.0 L121.9,351.2 L121.9,345.3 L121.8,339.3 L121.7,333.3 L121.7,327.4 L121.6,321.5 L121.5,315.8 L121.5,310.2 L121.5,305.0 L121.5,300.0 L121.5,296.5 L121.4,293.1 L121.2,289.7 L121.1,286.4 L120.9,283.2 L120.9,280.1 L120.9,277.3 L121.1,274.6 L121.5,272.2 L122.0,270.0 L122.4,268.9 L122.9,267.8 L123.3,266.9 L123.9,266.0 L124.4,265.1 L125.1,264.3 L125.7,263.6 L126.4,262.9 L127.2,262.2 L128.0,261.5 L129.0,260.7 L130.1,260.0 L131.2,259.3 L132.5,258.7 L133.7,258.1 L135.1,257.5 L136.5,257.0 L137.9,256.5 L139.4,256.0 L141.0,255.5 L143.4,254.9 L146.0,254.3 L148.9,253.9 L151.8,253.5 L154.9,253.1 L157.9,252.8 L161.0,252.5 L164.0,252.1 L166.9,251.8 L169.6,251.5 L171.7,251.2 L173.8,250.9 L175.8,250.7 L177.7,250.4 L179.6,250.2 L181.5,249.9 L183.5,249.7 L185.5,249.4 L187.7,249.2 L190.0,249.0 L193.4,248.7 L197.0,248.4 L200.7,248.2 L204.5,247.9 L208.5,247.7 L212.6,247.5 L216.8,247.2 L221.1,247.0 L225.5,246.8 L230.0,246.5 L236.2,246.1 L242.7,245.8 L249.4,245.4 L256.4,245.0 L263.5,244.6 L270.7,244.2 L278.0,243.7 L285.4,243.3 L292.7,242.9 L300.0,242.5 L307.9,242.1 L316.0,241.6 L324.2,241.2 L332.5,240.7 L340.8,240.3 L349.1,239.8 L357.2,239.4 L365.1,238.9 L372.7,238.4 L380.0,238.0 L385.4,237.7 L390.6,237.4 L395.6,237.2 L400.4,237.0 L405.2,236.7 L409.9,236.5 L414.7,236.1 L419.6,235.7 L424.7,235.2 L430.0,234.5 L437.0,233.5 L444.5,232.3 L452.3,231.0 L460.3,229.6 L468.4,228.1 L476.3,226.5 L484.0,224.8 L491.2,223.0 L497.8,221.3 L503.7,219.5 L507.0,218.4 L510.0,217.2 L512.9,216.0 L515.6,214.8 L518.2,213.6 L520.7,212.4 L523.1,211.2 L525.4,209.9 L527.7,208.7 L530.0,207.5 L531.8,206.5 L533.6,205.6 L535.4,204.6 L537.1,203.6 L538.7,202.7 L540.3,201.7 L541.9,200.8 L543.3,199.8 L544.7,198.9 L546.0,198.0 L546.8,197.4 L547.6,196.8 L548.4,196.2 L549.1,195.6 L549.7,195.0 L550.4,194.4 L551.0,193.8 L551.7,193.2 L552.3,192.6 L553.0,192.0" fill="none" stroke="#2a7cc4" stroke-width="3.00" stroke-linejoin="round" stroke-linecap="round" stroke-dasharray="14 5" stroke-linecap="butt"/>
<path d="M534.2,325.4 L533.2,326.1 L532.1,326.8 L531.1,327.4 L530.0,328.0 L528.9,328.6 L527.7,329.2 L526.6,329.7 L525.4,330.3 L524.2,330.8 L522.9,331.3 L521.7,331.7 L520.5,332.2 L519.2,332.6 L518.0,333.0 L516.7,333.4 L515.5,333.7 L514.2,334.1 L512.9,334.4 L511.6,334.7 L510.3,335.0 L509.0,335.2 L507.7,335.5 L506.3,335.7 L505.0,336.0 L503.6,336.3 L502.2,336.5 L500.8,336.8 L499.3,337.0 L497.9,337.2 L496.4,337.4 L494.9,337.6 L493.4,337.8 L491.7,338.0 L490.0,338.2 L487.5,338.5 L485.0,338.7 L482.4,338.9 L479.7,339.1 L476.8,339.3 L473.9,339.5 L470.7,339.7 L467.4,339.9 L463.8,340.2 L460.0,340.4 L451.6,340.9 L441.9,341.4 L431.0,342.0 L419.4,342.6 L407.3,343.2 L394.9,343.8 L382.7,344.4 L371.0,344.9 L360.0,345.4 L350.0,345.8 L343.2,346.1 L336.7,346.3 L330.3,346.4 L324.1,346.6 L318.1,346.7 L312.3,346.8 L306.5,347.0 L300.9,347.2 L295.4,347.5 L290.0,347.8 L285.7,348.1 L281.6,348.5 L277.7,348.9 L273.8,349.3 L270.0,349.7 L266.2,350.1 L262.3,350.6 L258.4,351.1 L254.3,351.5 L250.0,352.0 L244.5,352.6 L238.8,353.2 L233.0,353.9 L227.1,354.5 L221.0,355.2 L214.9,355.9 L208.7,356.5 L202.4,357.2 L196.2,357.9 L190.0,358.5 L183.4,359.2 L176.7,359.8 L169.9,360.5 L163.1,361.1 L156.3,361.8 L149.4,362.4 L142.5,363.1 L135.7,363.7 L128.8,364.4 L122.0,365.0" fill="none" stroke="#b0c4d4" stroke-width="7.0" stroke-linecap="round" stroke-linejoin="round"/>
<path d="M554.0,181.0 L553.9,188.0 L553.8,195.0 L553.7,202.1 L553.6,209.3 L553.5,216.4 L553.4,223.4 L553.3,230.3 L553.2,237.1 L553.1,243.7 L553.0,250.0 L553.0,255.1 L552.9,260.4 L553.0,265.6 L553.0,270.8 L553.0,275.8 L553.0,280.6 L552.9,285.1 L552.8,289.2 L552.7,292.9 L552.5,296.0 L552.4,297.2 L552.3,298.3 L552.2,299.2 L552.1,300.2 L552.0,301.0 L551.8,301.8 L551.7,302.6 L551.5,303.4 L551.3,304.2 L551.0,305.0 L550.7,305.8 L550.4,306.7 L550.1,307.5 L549.7,308.3 L549.3,309.1 L548.9,309.9 L548.4,310.7 L548.0,311.5 L547.5,312.2 L547.0,313.0 L546.4,313.8 L545.8,314.7 L545.2,315.5 L544.5,316.3 L543.8,317.1 L543.1,317.9 L542.4,318.7 L541.6,319.5 L540.8,320.3 L540.0,321.0 L539.1,321.8 L538.2,322.5 L537.2,323.3 L536.3,324.0 L535.3,324.7 L534.2,325.4 L533.2,326.1 L532.1,326.8 L531.1,327.4 L530.0,328.0 L528.9,328.6 L527.7,329.2 L526.6,329.7 L525.4,330.3 L524.2,330.8 L522.9,331.3 L521.7,331.7 L520.5,332.2 L519.2,332.6 L518.0,333.0 L516.7,333.4 L515.5,333.7 L514.2,334.1 L512.9,334.4 L511.6,334.7 L510.3,335.0" fill="none" stroke="#b0c4d4" stroke-width="4.8" stroke-linecap="round" stroke-linejoin="round"/>
<path d="M122.0,366.0 L122.0,359.3 L122.0,352.4 L121.9,345.5 L121.9,338.5 L121.9,331.5 L121.8,324.7 L121.8,318.1 L121.8,311.7 L121.8,305.6 L121.8,300.0 L121.8,296.2 L121.6,292.5 L121.5,288.9 L121.3,285.3 L121.2,281.9 L121.1,278.7 L121.1,275.7 L121.2,272.8 L121.5,270.3 L122.0,268.0 L122.3,266.9 L122.7,265.8 L123.1,264.8 L123.6,263.9 L124.0,263.0 L124.5,262.2 L125.1,261.5 L125.7,260.8 L126.3,260.1 L127.0,259.5 L127.7,258.9 L128.5,258.5 L129.3,258.1 L130.2,257.7 L131.1,257.4 L132.0,257.1 L133.0,256.8 L134.0,256.6 L135.0,256.3 L136.0,256.0 L137.3,255.7 L138.6,255.3 L139.9,255.0 L141.3,254.7 L142.7,254.5 L144.1,254.2 L145.6,254.0 L147.0,253.7 L148.5,253.5 L150.0,253.2 L151.7,252.9 L153.4,252.6 L155.2,252.4 L156.9,252.1 L158.7,251.9 L160.6,251.6 L162.4,251.4 L164.3,251.1 L166.1,250.8 L168.0,250.5 L170.1,250.1 L172.2,249.7 L174.2,249.3 L176.3,248.8 L178.4,248.4 L180.6,247.9 L182.8,247.5 L185.1,247.1 L187.5,246.7 L190.0,246.4 L193.5,246.0 L197.0,245.7 L200.8,245.5 L204.6,245.3 L208.6,245.1 L212.6,244.9 L216.8,244.7 L221.1,244.6 L225.5,244.4 L230.0,244.1 L236.2,243.7 L242.7,243.3 L249.4,242.9 L256.4,242.4 L263.5,241.9 L270.7,241.5 L278.0,241.0 L285.4,240.5 L292.7,240.0 L300.0,239.6 L307.9,239.1 L316.0,238.7 L324.2,238.2 L332.5,237.7 L340.8,237.3 L349.1,236.8 L357.2,236.4 L365.1,235.9 L372.7,235.5 L380.0,235.0 L385.4,234.7 L390.6,234.4 L395.6,234.2 L400.4,233.9 L405.2,233.7 L409.9,233.4 L414.7,233.1 L419.6,232.6 L424.7,232.1 L430.0,231.4 L437.0,230.4 L444.3,229.2 L452.0,228.0 L459.9,226.6 L467.9,225.0 L475.7,223.4 L483.3,221.7 L490.6,219.8 L497.5,217.9 L503.7,215.9 L507.8,214.4 L511.8,212.9 L515.7,211.3 L519.4,209.6 L522.9,207.9 L526.3,206.2 L529.5,204.4 L532.6,202.5 L535.5,200.6 L538.2,198.6 L540.2,197.0 L542.0,195.3 L543.7,193.6 L545.2,191.8 L546.7,190.0 L548.2,188.2 L549.6,186.4 L551.0,184.6 L552.5,182.8 L554.0,181.0" fill="none" stroke="#b0c4d4" stroke-width="5.40" stroke-linejoin="round" stroke-linecap="round" />
<path d="M554.0,181.0 L553.9,188.0 L553.8,195.0 L553.7,202.1 L553.6,209.3 L553.5,216.4 L553.4,223.4 L553.3,230.3 L553.2,237.1 L553.1,243.7 L553.0,250.0 L553.0,255.1 L552.9,260.4 L553.0,265.6 L553.0,270.8 L553.0,275.8 L553.0,280.6 L552.9,285.1 L552.8,289.2 L552.7,292.9 L552.5,296.0 L552.4,297.2 L552.3,298.3 L552.2,299.2 L552.1,300.2 L552.0,301.0 L551.8,301.8 L551.7,302.6 L551.5,303.4 L551.3,304.2 L551.0,305.0 L550.7,305.8 L550.4,306.7 L550.1,307.5 L549.7,308.3 L549.3,309.1 L548.9,309.9 L548.4,310.7 L548.0,311.5 L547.5,312.2 L547.0,313.0 L546.4,313.8 L545.8,314.7 L545.2,315.5 L544.5,316.3 L543.8,317.1 L543.1,317.9 L542.4,318.7 L541.6,319.5 L540.8,320.3 L540.0,321.0 L539.1,321.8 L538.2,322.5 L537.2,323.3 L536.3,324.0 L535.3,324.7 L534.2,325.4 L533.2,326.1 L532.1,326.8 L531.1,327.4 L530.0,328.0 L528.9,328.6 L527.7,329.2 L526.6,329.7 L525.4,330.3 L524.2,330.8 L522.9,331.3 L521.7,331.7 L520.5,332.2 L519.2,332.6 L518.0,333.0 L516.7,333.4 L515.5,333.7 L514.2,334.1 L512.9,334.4 L511.6,334.7 L510.3,335.0 L509.0,335.2 L507.7,335.5 L506.3,335.7 L505.0,336.0 L503.6,336.3 L502.2,336.5 L500.8,336.8 L499.3,337.0 L497.9,337.2 L496.4,337.4 L494.9,337.6 L493.4,337.8 L491.7,338.0 L490.0,338.2 L487.5,338.5 L485.0,338.7 L482.4,338.9 L479.7,339.1 L476.8,339.3 L473.9,339.5 L470.7,339.7 L467.4,339.9 L463.8,340.2 L460.0,340.4 L451.6,340.9 L441.9,341.4 L431.0,342.0 L419.4,342.6 L407.3,343.2 L394.9,343.8 L382.7,344.4 L371.0,344.9 L360.0,345.4 L350.0,345.8 L343.2,346.1 L336.7,346.3 L330.3,346.4 L324.1,346.6 L318.1,346.7 L312.3,346.8 L306.5,347.0 L300.9,347.2 L295.4,347.5 L290.0,347.8 L285.7,348.1 L281.6,348.5 L277.7,348.9 L273.8,349.3 L270.0,349.7 L266.2,350.1 L262.3,350.6 L258.4,351.1 L254.3,351.5 L250.0,352.0 L244.5,352.6 L238.8,353.2 L233.0,353.9 L227.1,354.5 L221.0,355.2 L214.9,355.9 L208.7,356.5 L202.4,357.2 L196.2,357.9 L190.0,358.5 L183.4,359.2 L176.7,359.8 L169.9,360.5 L163.1,361.1 L156.3,361.8 L149.4,362.4 L142.5,363.1 L135.7,363.7 L128.8,364.4 L122.0,365.0" fill="none" stroke="#7cc0ea" stroke-width="2.60" stroke-linejoin="round" stroke-linecap="round" />
<path d="M122.0,366.0 L122.0,359.3 L122.0,352.4 L121.9,345.5 L121.9,338.5 L121.9,331.5 L121.8,324.7 L121.8,318.1 L121.8,311.7 L121.8,305.6 L121.8,300.0 L121.8,296.2 L121.6,292.5 L121.5,288.9 L121.3,285.3 L121.2,281.9 L121.1,278.7 L121.1,275.7 L121.2,272.8 L121.5,270.3 L122.0,268.0 L122.3,266.9 L122.7,265.8 L123.1,264.8 L123.6,263.9 L124.0,263.0 L124.5,262.2 L125.1,261.5 L125.7,260.8 L126.3,260.1 L127.0,259.5 L127.7,258.9 L128.5,258.5 L129.3,258.1 L130.2,257.7 L131.1,257.4 L132.0,257.1 L133.0,256.8 L134.0,256.6 L135.0,256.3 L136.0,256.0 L137.3,255.7 L138.6,255.3 L139.9,255.0 L141.3,254.7 L142.7,254.5 L144.1,254.2 L145.6,254.0 L147.0,253.7 L148.5,253.5 L150.0,253.2 L151.7,252.9 L153.4,252.6 L155.2,252.4 L156.9,252.1 L158.7,251.9 L160.6,251.6 L162.4,251.4 L164.3,251.1 L166.1,250.8 L168.0,250.5 L170.1,250.1 L172.2,249.7 L174.2,249.3 L176.3,248.8 L178.4,248.4 L180.6,247.9 L182.8,247.5 L185.1,247.1 L187.5,246.7 L190.0,246.4 L193.5,246.0 L197.0,245.7 L200.8,245.5 L204.6,245.3 L208.6,245.1 L212.6,244.9 L216.8,244.7 L221.1,244.6 L225.5,244.4 L230.0,244.1 L236.2,243.7 L242.7,243.3 L249.4,242.9 L256.4,242.4 L263.5,241.9 L270.7,241.5 L278.0,241.0 L285.4,240.5 L292.7,240.0 L300.0,239.6 L307.9,239.1 L316.0,238.7 L324.2,238.2 L332.5,237.7 L340.8,237.3 L349.1,236.8 L357.2,236.4 L365.1,235.9 L372.7,235.5 L380.0,235.0 L385.4,234.7 L390.6,234.4 L395.6,234.2 L400.4,233.9 L405.2,233.7 L409.9,233.4 L414.7,233.1 L419.6,232.6 L424.7,232.1 L430.0,231.4 L437.0,230.4 L444.3,229.2 L452.0,228.0 L459.9,226.6 L467.9,225.0 L475.7,223.4 L483.3,221.7 L490.6,219.8 L497.5,217.9 L503.7,215.9 L507.8,214.4 L511.8,212.9 L515.7,211.3 L519.4,209.6 L522.9,207.9 L526.3,206.2 L529.5,204.4 L532.6,202.5 L535.5,200.6 L538.2,198.6 L540.2,197.0 L542.0,195.3 L543.7,193.6 L545.2,191.8 L546.7,190.0 L548.2,188.2 L549.6,186.4 L551.0,184.6 L552.5,182.8 L554.0,181.0" fill="none" stroke="#7cc0ea" stroke-width="2.60" stroke-linejoin="round" stroke-linecap="round" />
<path d="M122.0,406.0 L122.0,398.3 L122.0,390.5 L122.0,382.6 L121.9,374.6 L121.9,366.8 L121.9,359.0 L121.9,351.3 L121.9,343.9 L121.9,336.8 L122.0,330.0 L122.0,325.0 L122.1,320.0 L122.1,315.1 L122.1,310.4 L122.1,305.8 L122.2,301.3 L122.3,296.9 L122.4,292.8 L122.7,288.8 L123.0,285.0 L123.3,282.4 L123.5,279.9 L123.8,277.5 L124.1,275.2 L124.4,272.9 L124.8,270.8 L125.2,268.7 L125.7,266.7 L126.3,264.8 L127.0,263.0 L127.6,261.7 L128.3,260.4 L129.1,259.2 L129.9,258.1 L130.7,257.1 L131.5,256.0 L132.4,255.0 L133.3,254.0 L134.2,253.0 L135.0,252.0 L135.8,251.1 L136.5,250.2 L137.3,249.3 L138.1,248.4 L138.9,247.5 L139.7,246.7 L140.5,245.8 L141.3,245.1 L142.2,244.4 L143.0,243.7 L143.8,243.1 L144.5,242.6 L145.3,242.2 L146.1,241.7 L146.9,241.3 L147.7,240.9 L148.5,240.5 L149.4,240.2 L150.2,239.8 L151.0,239.5 L151.8,239.2 L152.6,238.9 L153.4,238.7 L154.2,238.5 L155.0,238.2 L155.8,238.0 L156.6,237.8 L157.4,237.6 L158.2,237.4 L159.0,237.3 L159.8,237.1 L160.6,236.9 L161.4,236.8 L162.2,236.6 L163.0,236.5 L163.8,236.3 L164.6,236.2 L165.4,236.1 L166.2,236.0 L167.0,235.8 L167.8,235.7 L168.6,235.6 L169.4,235.5 L170.2,235.4 L171.0,235.3 L171.8,235.2 L172.6,235.1 L173.4,235.0 L174.2,234.9 L175.0,234.8 L175.8,234.7 L176.6,234.6 L177.4,234.5 L178.2,234.4 L179.0,234.4 L179.8,234.3 L180.6,234.2 L181.4,234.1 L182.2,234.0 L183.0,233.9 L183.8,233.9 L184.6,233.8 L185.4,233.7 L186.2,233.6 L187.0,233.6 L187.8,233.5 L188.6,233.4 L189.4,233.3 L190.2,233.2 L191.0,233.2 L191.8,233.1 L192.6,233.0 L193.4,232.9 L194.2,232.9 L195.0,232.8 L195.8,232.7 L196.6,232.6 L197.4,232.6 L198.2,232.5 L199.0,232.4 L199.8,232.4 L200.6,232.3 L201.4,232.2 L202.2,232.1 L203.0,232.1 L203.8,232.0 L204.6,231.9 L205.4,231.8 L206.2,231.8 L207.0,231.7 L207.8,231.6 L208.6,231.6 L209.4,231.5 L210.2,231.4 L211.0,231.3 L211.8,231.3 L212.6,231.2 L213.4,231.1 L214.2,231.0 L215.0,231.0 L215.8,230.9 L216.6,230.8 L217.4,230.8 L218.2,230.7 L219.0,230.6 L219.8,230.5 L220.6,230.5 L221.4,230.4 L222.2,230.3 L223.0,230.3 L223.8,230.2 L224.6,230.1 L225.4,230.0 L226.2,230.0 L227.0,229.9 L227.8,229.8 L228.6,229.7 L229.4,229.7 L230.2,229.6 L231.0,229.5 L231.8,229.5 L232.6,229.4 L233.4,229.3 L234.2,229.2 L235.0,229.2 L235.8,229.1 L236.6,229.0 L237.4,228.9 L238.2,228.9 L239.0,228.8 L239.8,228.7 L240.6,228.7 L241.4,228.6 L242.2,228.5 L243.0,228.4 L243.8,228.4 L244.6,228.3 L245.4,228.2 L246.2,228.1 L247.0,228.1 L247.8,228.0 L248.6,227.9 L249.4,227.9 L250.2,227.8 L251.0,227.7 L251.8,227.6 L252.6,227.6 L253.4,227.5 L254.2,227.4 L255.0,227.3 L255.8,227.3 L256.6,227.2 L257.4,227.1 L258.2,227.0 L259.0,227.0 L259.8,226.9 L260.6,226.8 L261.4,226.7 L262.2,226.7 L263.0,226.6 L263.8,226.5 L264.6,226.5 L265.4,226.4 L266.2,226.3 L267.0,226.2 L267.8,226.2 L268.6,226.1 L269.4,226.0 L270.2,225.9 L271.0,225.9 L271.8,225.8 L272.6,225.7 L273.4,225.6 L274.2,225.6 L275.0,225.5 L275.8,225.4 L276.6,225.3 L277.4,225.3 L278.2,225.2 L279.0,225.1 L279.8,225.0 L280.6,225.0 L281.4,224.9 L282.2,224.8 L283.0,224.7 L283.8,224.6 L284.6,224.6 L285.4,224.5 L286.2,224.4 L287.0,224.3 L287.8,224.3 L288.6,224.2 L289.4,224.1 L290.2,224.0 L291.0,224.0 L291.8,223.9 L292.6,223.8 L293.4,223.7 L294.2,223.6 L295.0,223.6 L295.8,223.5 L296.6,223.4 L297.4,223.3 L298.2,223.3 L299.0,223.2 L299.8,223.1 L300.6,223.0" fill="none" stroke="#e51d25" stroke-width="3.80" stroke-linecap="round" stroke-linejoin="round" stroke-dasharray="2.6 5.8"/>
<path d="M299.8,223.1 L300.6,223.0 L301.4,222.9 L302.2,222.9 L303.0,222.8 L303.8,222.7 L304.6,222.6 L305.4,222.5 L306.2,222.5 L307.0,222.4 L307.8,222.3 L308.6,222.2 L309.4,222.1 L310.2,222.1 L311.0,222.0 L311.8,221.9 L312.6,221.8 L313.4,221.7 L314.2,221.7 L315.0,221.6 L315.8,221.5 L316.6,221.4 L317.4,221.3 L318.2,221.2 L319.0,221.2 L319.8,221.1 L320.6,221.0 L321.4,220.9 L322.2,220.8 L323.0,220.7 L323.8,220.7 L324.6,220.6 L325.4,220.5 L326.2,220.4 L327.0,220.3 L327.8,220.2 L328.6,220.2 L329.4,220.1 L330.2,220.0 L331.0,219.9 L331.8,219.8 L332.6,219.7 L333.4,219.6 L334.2,219.5 L335.0,219.5 L335.8,219.4 L336.6,219.3 L337.4,219.2 L338.2,219.1 L339.0,219.0 L339.8,218.9 L340.6,218.8 L341.4,218.7 L342.2,218.6 L343.0,218.6 L343.8,218.5 L344.6,218.4 L345.4,218.3 L346.2,218.2 L347.0,218.1 L347.8,218.0 L348.6,217.9 L349.4,217.8 L350.2,217.7 L351.0,217.6 L351.8,217.5 L352.6,217.4 L353.4,217.3 L354.2,217.2 L355.0,217.1 L355.8,217.0 L356.6,216.9 L357.4,216.8 L358.2,216.7 L359.0,216.6 L359.8,216.5 L360.6,216.4 L361.4,216.3 L362.2,216.2 L363.0,216.1 L363.8,216.0 L364.6,215.9 L365.4,215.8 L366.2,215.7 L367.0,215.6 L367.8,215.5 L368.6,215.4 L369.4,215.3 L370.2,215.2 L371.0,215.1 L371.8,214.9 L372.6,214.8 L373.4,214.7 L374.2,214.6 L375.0,214.5 L375.8,214.4 L376.6,214.3 L377.4,214.1 L378.2,214.0 L379.0,213.9 L379.8,213.8 L380.6,213.7 L381.4,213.5 L382.2,213.4 L383.0,213.3 L383.8,213.2 L384.6,213.1 L385.4,212.9 L386.2,212.8 L387.0,212.7 L387.8,212.5 L388.6,212.4 L389.4,212.3 L390.2,212.2 L391.0,212.0 L391.8,211.9 L392.6,211.8 L393.4,211.6 L394.2,211.5 L395.0,211.3 L395.8,211.2 L396.6,211.1 L397.4,210.9 L398.2,210.8 L399.0,210.6 L399.8,210.5 L400.6,210.3 L401.4,210.2 L402.2,210.0 L403.0,209.9 L403.8,209.7 L404.6,209.6 L405.4,209.4 L406.2,209.3 L407.0,209.1 L407.8,208.9 L408.6,208.8 L409.4,208.6 L410.2,208.4 L411.0,208.3 L411.8,208.1 L412.6,207.9 L413.4,207.8 L414.2,207.6 L415.0,207.4 L415.8,207.2 L416.6,207.0 L417.4,206.9 L418.2,206.7 L419.0,206.5 L419.8,206.3 L420.6,206.1 L421.4,205.9 L422.2,205.7 L423.0,205.5 L423.8,205.3 L424.6,205.1 L425.4,204.9 L426.2,204.7 L427.0,204.5 L427.8,204.3 L428.6,204.0 L429.4,203.8 L430.2,203.6 L431.0,203.4 L431.8,203.2 L432.6,202.9 L433.4,202.7 L434.2,202.5 L435.0,202.2 L435.8,202.0 L436.6,201.7 L437.4,201.5 L438.2,201.2 L439.0,201.0 L439.8,200.7 L440.6,200.4 L441.4,200.2 L442.2,199.9 L443.0,199.6 L443.8,199.4 L444.6,199.1 L445.4,198.8 L446.2,198.5 L447.0,198.2 L447.8,197.9 L448.6,197.6 L449.4,197.3 L450.2,197.0 L451.0,196.7 L451.8,196.4 L452.6,196.1 L453.4,195.7 L454.2,195.4 L455.0,195.1 L455.8,194.7 L456.6,194.4 L457.4,194.0 L458.2,193.7 L459.0,193.3 L459.8,192.9 L460.6,192.6 L461.4,192.2 L462.2,191.8 L463.0,191.4 L463.8,191.0 L464.6,190.6 L465.4,190.2 L466.2,189.8 L467.0,189.4 L467.8,189.0 L468.6,188.5 L469.4,188.1 L470.2,187.6 L471.0,187.2 L471.8,186.7 L472.6,186.3 L473.4,185.8 L474.2,185.3 L475.0,184.8 L475.8,184.3 L476.6,183.8 L477.4,183.3 L478.2,182.8 L479.0,182.3 L479.8,181.7 L480.6,181.2 L481.4,180.6 L482.2,180.0 L483.0,179.5 L483.8,178.9 L484.6,178.3 L485.4,177.7 L486.2,177.1 L487.0,176.5 L487.8,175.8 L488.6,175.2 L489.5,174.5 L490.3,173.8 L491.1,173.1 L492.0,172.4 L492.8,171.7 L493.5,171.0 L494.3,170.4 L495.0,169.7 L495.6,169.2 L496.1,168.7 L496.6,168.2 L497.1,167.7 L497.6,167.3 L498.1,166.8 L498.6,166.3 L499.1,165.8 L499.5,165.4 L500.0,164.9 L500.4,164.5 L500.8,164.0 L501.2,163.6 L501.6,163.2 L502.0,162.8 L502.4,162.4 L502.8,161.9 L503.2,161.5 L503.6,161.1 L504.0,160.6 L504.4,160.2 L504.8,159.7 L505.2,159.3 L505.6,158.8 L506.0,158.4 L506.4,157.9 L506.8,157.4 L507.2,157.0 L507.6,156.5 L508.0,156.0 L508.4,155.5 L508.8,155.1 L509.2,154.6 L509.6,154.1 L510.0,153.6 L510.4,153.1 L510.8,152.6 L511.2,152.0 L511.6,151.5 L512.0,151.0 L512.4,150.5 L512.8,149.9 L513.2,149.4 L513.6,148.9 L514.0,148.3 L514.4,147.8 L514.8,147.2 L515.2,146.7 L515.6,146.1 L516.0,145.6 L516.4,145.0 L516.8,144.4 L517.2,143.8 L517.6,143.2 L518.0,142.6 L518.4,142.0 L518.8,141.4 L519.2,140.8 L519.6,140.2 L520.0,139.6 L520.4,139.0 L520.8,138.3 L521.2,137.7 L521.6,137.1 L522.0,136.4 L522.4,135.8 L522.8,135.1 L523.2,134.5 L523.6,133.8 L524.0,133.1 L524.4,132.4 L524.8,131.8 L525.2,131.1 L525.6,130.4 L526.0,129.7 L526.4,128.9 L526.8,128.2 L527.2,127.5 L527.6,126.8 L528.0,126.1 L528.4,125.3 L528.8,124.6 L529.2,123.8 L529.6,123.1 L530.0,122.3 L530.4,121.5 L530.8,120.7 L531.2,120.0 L531.6,119.2 L532.0,118.4 L532.4,117.6 L532.8,116.7 L533.2,115.9 L533.6,115.1 L534.0,114.2 L534.4,113.4 L534.8,112.6 L535.2,111.7 L535.6,110.9 L536.0,110.0 L536.4,109.1 L536.8,108.2 L537.2,107.3 L537.6,106.4 L538.0,105.5 L538.4,104.6 L538.8,103.6 L539.2,102.7 L539.6,101.8 L540.0,100.8 L540.4,99.9 L540.8,98.9 L541.2,97.9 L541.6,96.9 L542.0,95.9 L542.4,94.9 L542.8,93.9 L543.2,92.9 L543.6,91.9 L544.0,90.9 L544.4,89.8 L544.8,88.7 L545.2,87.6 L545.6,86.6 L546.0,85.5 L546.4,84.4 L546.8,83.3 L547.2,82.2 L547.6,81.1 L548.0,80.0 L548.4,78.8 L548.8,77.5 L549.3,76.3 L549.7,75.0 L550.1,73.7 L550.6,72.5 L551.0,71.2 L551.3,70.1 L551.7,69.0 L552.0,68.1 L552.2,67.5 L552.4,67.0 L552.5,66.5 L552.7,66.0 L552.8,65.5 L552.9,65.1 L553.1,64.7 L553.2,64.2 L553.4,63.8 L553.5,63.3" fill="none" stroke="#e51d25" stroke-width="4.70" stroke-linecap="round" stroke-linejoin="round" stroke-dasharray="0.3 7.9"/>
<path d="M553.5,61.0 L553.4,67.9 L553.2,74.9 L553.1,81.8 L552.9,88.8 L552.8,95.7 L552.6,102.6 L552.5,109.5 L552.3,116.4 L552.2,123.2 L552.0,130.0 L551.9,136.5 L551.8,143.0 L551.8,149.6 L551.7,156.2 L551.6,162.7 L551.6,169.1 L551.4,175.4 L551.2,181.5 L550.9,187.4 L550.5,193.0 L550.1,197.2 L549.7,201.3 L549.1,205.3 L548.6,209.2 L548.0,213.0 L547.4,216.7 L546.8,220.4 L546.2,224.0 L545.6,227.5 L545.0,231.0 L544.5,233.9 L544.0,236.9 L543.6,239.8 L543.1,242.7 L542.6,245.5 L542.1,248.2 L541.6,250.9 L541.1,253.4 L540.5,255.8 L540.0,258.0 L539.6,259.4 L539.3,260.8 L538.9,262.1 L538.5,263.3 L538.1,264.5 L537.8,265.6 L537.4,266.7 L536.9,267.8 L536.5,268.9 L536.1,270.0 L535.7,270.9 L535.3,271.7 L534.9,272.6 L534.5,273.3 L534.1,274.1 L533.7,274.9 L533.3,275.7 L532.9,276.5 L532.4,277.3 L532.0,278.2 L531.5,279.3 L530.9,280.3 L530.3,281.5 L529.8,282.6 L529.2,283.7 L528.6,284.9 L528.0,286.1 L527.4,287.2 L526.9,288.4 L526.3,289.6 L525.7,290.9 L525.2,292.2 L524.6,293.5 L524.1,294.9 L523.5,296.2 L523.0,297.6 L522.4,298.9 L521.8,300.2 L521.2,301.5 L520.6,302.7 L520.0,303.8 L519.4,304.8 L518.8,305.9 L518.2,306.9 L517.6,307.9 L516.9,308.9 L516.2,309.8 L515.5,310.8 L514.8,311.7 L514.0,312.6 L513.1,313.5 L512.3,314.4 L511.3,315.3 L510.4,316.1 L509.4,316.9 L508.4,317.7 L507.3,318.5 L506.3,319.3 L505.3,320.1 L504.2,320.8 L503.1,321.5 L502.0,322.2 L500.9,322.9 L499.7,323.6 L498.6,324.2 L497.4,324.8 L496.2,325.5 L495.0,326.1 L493.9,326.7 L492.7,327.3 L491.6,327.9 L490.4,328.5 L489.2,329.1 L488.0,329.8 L486.8,330.4 L485.7,330.9 L484.5,331.5 L483.4,332.0 L482.3,332.5 L481.3,333.0 L480.6,333.3 L480.0,333.6 L479.4,333.8 L478.9,334.0 L478.3,334.2 L477.7,334.5 L477.1,334.7 L476.4,334.9 L475.6,335.2 L474.7,335.5 L471.4,336.6 L467.3,337.9 L462.4,339.4 L457.0,341.1 L451.1,342.8 L445.0,344.6 L438.6,346.3 L432.3,348.0 L426.0,349.6 L420.0,351.0 L413.4,352.4 L406.5,353.6 L399.5,354.8 L392.4,355.9 L385.2,356.9 L378.1,357.9 L370.9,359.0 L363.8,360.0 L356.8,361.1 L350.0,362.2 L343.7,363.3 L337.5,364.4 L331.3,365.5 L325.1,366.6 L318.9,367.7 L312.9,368.8 L306.9,370.0 L301.1,371.2 L295.5,372.4" fill="none" stroke="#e51d25" stroke-width="4.70" stroke-linecap="round" stroke-linejoin="round" stroke-dasharray="0.3 7.9"/>
<path d="M301.1,371.2 L295.5,372.4 L290.0,373.6 L285.7,374.6 L281.6,375.7 L277.6,376.8 L273.8,377.8 L270.0,378.9 L266.2,380.1 L262.3,381.2 L258.4,382.3 L254.3,383.4 L250.0,384.5 L244.4,385.9 L238.5,387.4 L232.3,388.9 L225.9,390.4 L219.5,391.9 L213.1,393.3 L206.9,394.7 L200.9,396.0 L195.2,397.2 L190.0,398.2 L186.6,398.8 L183.4,399.4 L180.4,399.8 L177.5,400.3 L174.6,400.7 L171.8,401.1 L169.0,401.4 L166.1,401.8 L163.1,402.1 L160.0,402.5 L156.4,402.9 L152.7,403.3 L148.9,403.7 L145.1,404.0 L141.3,404.3 L137.4,404.7 L133.5,405.0 L129.7,405.3 L125.8,405.7 L122.0,406.0" fill="none" stroke="#e51d25" stroke-width="3.80" stroke-linecap="round" stroke-linejoin="round" stroke-dasharray="2.6 5.8"/>
<text x="414.50" y="82.91" font-size="27.87" fill="#e8171f" font-weight="bold" textLength="75.90" lengthAdjust="spacingAndGlyphs"  stroke="#e8171f" stroke-width="0.62" stroke-linejoin="round">BeSO</text>
<text x="491.53" y="89.10" font-size="18.40" fill="#e8171f" font-weight="bold" textLength="10.18" lengthAdjust="spacingAndGlyphs"  stroke="#e8171f" stroke-width="0.41" stroke-linejoin="round">4</text>
<line x1="463.3" y1="90.0" x2="528.0" y2="111.0" stroke="#e8171f" stroke-width="3.80" stroke-linecap="round"/>
<polyline points="517.8,100.9 528.0,111.0 512.7,114.0" fill="none" stroke="#e8171f" stroke-width="3.80" stroke-linejoin="miter" stroke-linecap="round"/>
<text x="286.70" y="151.97" font-size="30.05" fill="#111" font-weight="bold" textLength="21.16" lengthAdjust="spacingAndGlyphs"  stroke="#111" stroke-width="0.66" stroke-linejoin="round">A</text>
<text x="308.18" y="151.98" font-size="28.64" fill="#111" font-weight="bold" textLength="6.48" lengthAdjust="spacingAndGlyphs"  stroke="#111" stroke-width="0.63" stroke-linejoin="round">l</text>
<text x="315.56" y="158.61" font-size="17.31" fill="#111" font-weight="bold" textLength="11.61" lengthAdjust="spacingAndGlyphs"  stroke="#111" stroke-width="0.38" stroke-linejoin="round">2</text>
<text x="327.68" y="152.24" font-size="29.68" fill="#111" font-weight="bold" textLength="8.98" lengthAdjust="spacingAndGlyphs"  stroke="#111" stroke-width="0.65" stroke-linejoin="round">(</text>
<text x="337.93" y="151.98" font-size="29.64" fill="#111" font-weight="bold" textLength="43.18" lengthAdjust="spacingAndGlyphs"  stroke="#111" stroke-width="0.65" stroke-linejoin="round">SO</text>
<text x="380.71" y="158.31" font-size="17.41" fill="#111" font-weight="bold" textLength="10.62" lengthAdjust="spacingAndGlyphs"  stroke="#111" stroke-width="0.39" stroke-linejoin="round">4</text>
<text x="393.82" y="152.03" font-size="29.26" fill="#111" font-weight="bold" textLength="9.07" lengthAdjust="spacingAndGlyphs"  stroke="#111" stroke-width="0.64" stroke-linejoin="round">)</text>
<text x="403.78" y="158.10" font-size="18.99" fill="#111" font-weight="bold" textLength="11.78" lengthAdjust="spacingAndGlyphs"  stroke="#111" stroke-width="0.42" stroke-linejoin="round">3</text>
<line x1="393.4" y1="165.9" x2="446.8" y2="204.0" stroke="#111" stroke-width="3.80" stroke-linecap="round"/>
<polyline points="440.8,191.3 446.8,204.0 431.5,200.9" fill="none" stroke="#111" stroke-width="3.80" stroke-linejoin="miter" stroke-linecap="round"/>
<text x="171.20" y="200.12" font-size="29.05" fill="#2179c2" font-weight="bold" textLength="12.98" lengthAdjust="spacingAndGlyphs"  stroke="#2179c2" stroke-width="0.96" stroke-linejoin="round">L</text>
<text x="185.15" y="200.27" font-size="29.58" fill="#2179c2" font-weight="bold" textLength="6.64" lengthAdjust="spacingAndGlyphs"  stroke="#2179c2" stroke-width="0.65" stroke-linejoin="round">i</text>
<text x="189.93" y="206.20" font-size="17.86" fill="#2179c2" font-weight="bold" textLength="12.17" lengthAdjust="spacingAndGlyphs"  stroke="#2179c2" stroke-width="0.39" stroke-linejoin="round">2</text>
<text x="202.79" y="200.19" font-size="28.96" fill="#2179c2" font-weight="bold" textLength="40.14" lengthAdjust="spacingAndGlyphs"  stroke="#2179c2" stroke-width="0.64" stroke-linejoin="round">SO</text>
<text x="243.92" y="205.50" font-size="17.83" fill="#2179c2" font-weight="bold" textLength="10.19" lengthAdjust="spacingAndGlyphs"  stroke="#2179c2" stroke-width="0.39" stroke-linejoin="round">4</text>
<line x1="165.8" y1="207.6" x2="141.8" y2="248.5" stroke="#2179c2" stroke-width="3.80" stroke-linecap="round"/>
<polyline points="142.4,235.4 141.8,248.5 151.7,241.4" fill="none" stroke="#2179c2" stroke-width="3.80" stroke-linejoin="miter" stroke-linecap="round"/>
<text x="182.71" y="434.06" font-size="30.33" fill="#29ade3" font-weight="bold" textLength="20.23" lengthAdjust="spacingAndGlyphs"  stroke="#29ade3" stroke-width="0.67" stroke-linejoin="round">N</text>
<text x="203.54" y="433.99" font-size="29.01" fill="#29ade3" font-weight="bold" textLength="14.61" lengthAdjust="spacingAndGlyphs"  stroke="#29ade3" stroke-width="0.65" stroke-linejoin="round">a</text>
<text x="222.41" y="440.20" font-size="17.86" fill="#29ade3" font-weight="bold" textLength="12.52" lengthAdjust="spacingAndGlyphs"  stroke="#29ade3" stroke-width="0.39" stroke-linejoin="round">2</text>
<text x="235.49" y="433.97" font-size="29.78" fill="#29ade3" font-weight="bold" textLength="40.23" lengthAdjust="spacingAndGlyphs"  stroke="#29ade3" stroke-width="0.66" stroke-linejoin="round">SO</text>
<text x="277.35" y="440.20" font-size="18.12" fill="#29ade3" font-weight="bold" textLength="9.46" lengthAdjust="spacingAndGlyphs"  stroke="#29ade3" stroke-width="0.40" stroke-linejoin="round">4</text>
<line x1="191.1" y1="405.0" x2="173.8" y2="365.4" stroke="#29ade3" stroke-width="3.80" stroke-linecap="round"/>
<polyline points="172.0,378.3 173.8,365.4 185.9,372.3" fill="none" stroke="#29ade3" stroke-width="3.80" stroke-linejoin="miter" stroke-linecap="round"/>
<text x="332.07" y="431.87" font-size="30.22" fill="#e8822f" font-weight="bold" textLength="17.30" lengthAdjust="spacingAndGlyphs"  stroke="#e8822f" stroke-width="0.85" stroke-linejoin="round">K</text>
<text x="350.27" y="438.31" font-size="17.03" fill="#e8822f" font-weight="bold" textLength="11.38" lengthAdjust="spacingAndGlyphs"  stroke="#e8822f" stroke-width="0.38" stroke-linejoin="round">2</text>
<text x="362.48" y="431.87" font-size="29.91" fill="#e8822f" font-weight="bold" textLength="40.75" lengthAdjust="spacingAndGlyphs"  stroke="#e8822f" stroke-width="0.66" stroke-linejoin="round">SO</text>
<text x="403.03" y="437.79" font-size="18.96" fill="#e8822f" font-weight="bold" textLength="10.27" lengthAdjust="spacingAndGlyphs"  stroke="#e8822f" stroke-width="0.42" stroke-linejoin="round">4</text>
<line x1="350.0" y1="401.0" x2="360.0" y2="349.0" stroke="#e8822f" stroke-width="3.80" stroke-linecap="round"/>
<polyline points="354.5,359.5 360.0,349.0 365.5,360.0" fill="none" stroke="#e8822f" stroke-width="3.80" stroke-linejoin="miter" stroke-linecap="round"/>
<text x="451.73" y="430.19" font-size="27.94" fill="#8fcb55" font-weight="bold" textLength="88.10" lengthAdjust="spacingAndGlyphs"  stroke="#8fcb55" stroke-width="0.62" stroke-linejoin="round">MgSO</text>
<text x="539.79" y="434.51" font-size="16.85" fill="#8fcb55" font-weight="bold" textLength="10.94" lengthAdjust="spacingAndGlyphs"  stroke="#8fcb55" stroke-width="0.37" stroke-linejoin="round">4</text>
<line x1="507.4" y1="391.4" x2="521.0" y2="329.0" stroke="#8fcb55" stroke-width="3.80" stroke-linecap="round"/>
<polyline points="515.0,340.0 521.0,329.0 526.5,341.0" fill="none" stroke="#8fcb55" stroke-width="3.80" stroke-linejoin="miter" stroke-linecap="round"/>
<line x1="730.0" y1="20.6" x2="1191.5" y2="20.6" stroke="#2b2b2b" stroke-width="2.40" />
<line x1="736.8" y1="19.4" x2="736.8" y2="474.0" stroke="#2b2b2b" stroke-width="2.60" />
<line x1="730.0" y1="466.5" x2="1191.5" y2="466.5" stroke="#2b2b2b" stroke-width="2.60" />
<line x1="1185.3" y1="19.4" x2="1185.3" y2="467.5" stroke="#2b2b2b" stroke-width="2.60" />
<line x1="730.0" y1="466.3" x2="744.0" y2="466.3" stroke="#2b2b2b" stroke-width="2.40" />
<line x1="736.8" y1="440.1" x2="743.0" y2="440.1" stroke="#2b2b2b" stroke-width="2.20" />
<line x1="736.8" y1="413.8" x2="743.0" y2="413.8" stroke="#2b2b2b" stroke-width="2.20" />
<line x1="736.8" y1="387.6" x2="743.0" y2="387.6" stroke="#2b2b2b" stroke-width="2.20" />
<line x1="730.0" y1="361.3" x2="744.0" y2="361.3" stroke="#2b2b2b" stroke-width="2.40" />
<line x1="736.8" y1="335.1" x2="743.0" y2="335.1" stroke="#2b2b2b" stroke-width="2.20" />
<line x1="736.8" y1="308.8" x2="743.0" y2="308.8" stroke="#2b2b2b" stroke-width="2.20" />
<line x1="736.8" y1="282.6" x2="743.0" y2="282.6" stroke="#2b2b2b" stroke-width="2.20" />
<line x1="730.0" y1="256.3" x2="744.0" y2="256.3" stroke="#2b2b2b" stroke-width="2.40" />
<line x1="736.8" y1="230.1" x2="743.0" y2="230.1" stroke="#2b2b2b" stroke-width="2.20" />
<line x1="736.8" y1="203.8" x2="743.0" y2="203.8" stroke="#2b2b2b" stroke-width="2.20" />
<line x1="736.8" y1="177.6" x2="743.0" y2="177.6" stroke="#2b2b2b" stroke-width="2.20" />
<line x1="730.0" y1="151.3" x2="744.0" y2="151.3" stroke="#2b2b2b" stroke-width="2.40" />
<line x1="736.8" y1="125.1" x2="743.0" y2="125.1" stroke="#2b2b2b" stroke-width="2.20" />
<line x1="736.8" y1="98.8" x2="743.0" y2="98.8" stroke="#2b2b2b" stroke-width="2.20" />
<line x1="736.8" y1="72.6" x2="743.0" y2="72.6" stroke="#2b2b2b" stroke-width="2.20" />
<line x1="730.0" y1="46.3" x2="744.0" y2="46.3" stroke="#2b2b2b" stroke-width="2.40" />
<line x1="736.8" y1="20.1" x2="743.0" y2="20.1" stroke="#2b2b2b" stroke-width="2.20" />
<line x1="736.8" y1="460.0" x2="736.8" y2="474.0" stroke="#2b2b2b" stroke-width="2.40" />
<line x1="763.7" y1="460.5" x2="763.7" y2="466.5" stroke="#2b2b2b" stroke-width="2.20" />
<line x1="790.6" y1="460.5" x2="790.6" y2="466.5" stroke="#2b2b2b" stroke-width="2.20" />
<line x1="817.4" y1="460.5" x2="817.4" y2="466.5" stroke="#2b2b2b" stroke-width="2.20" />
<line x1="844.3" y1="460.5" x2="844.3" y2="466.5" stroke="#2b2b2b" stroke-width="2.20" />
<line x1="871.2" y1="460.0" x2="871.2" y2="474.0" stroke="#2b2b2b" stroke-width="2.40" />
<line x1="898.1" y1="460.5" x2="898.1" y2="466.5" stroke="#2b2b2b" stroke-width="2.20" />
<line x1="925.0" y1="460.5" x2="925.0" y2="466.5" stroke="#2b2b2b" stroke-width="2.20" />
<line x1="951.8" y1="460.5" x2="951.8" y2="466.5" stroke="#2b2b2b" stroke-width="2.20" />
<line x1="978.7" y1="460.5" x2="978.7" y2="466.5" stroke="#2b2b2b" stroke-width="2.20" />
<line x1="1005.6" y1="460.0" x2="1005.6" y2="474.0" stroke="#2b2b2b" stroke-width="2.40" />
<line x1="1032.5" y1="460.5" x2="1032.5" y2="466.5" stroke="#2b2b2b" stroke-width="2.20" />
<line x1="1059.4" y1="460.5" x2="1059.4" y2="466.5" stroke="#2b2b2b" stroke-width="2.20" />
<line x1="1086.2" y1="460.5" x2="1086.2" y2="466.5" stroke="#2b2b2b" stroke-width="2.20" />
<line x1="1113.1" y1="460.5" x2="1113.1" y2="466.5" stroke="#2b2b2b" stroke-width="2.20" />
<line x1="1140.0" y1="460.0" x2="1140.0" y2="474.0" stroke="#2b2b2b" stroke-width="2.40" />
<line x1="1166.9" y1="460.5" x2="1166.9" y2="466.5" stroke="#2b2b2b" stroke-width="2.20" />
<line x1="1178.0" y1="466.6" x2="1192.0" y2="466.6" stroke="#2b2b2b" stroke-width="2.40" />
<line x1="1180.0" y1="444.3" x2="1185.3" y2="444.3" stroke="#2b2b2b" stroke-width="2.20" />
<line x1="1180.0" y1="422.0" x2="1185.3" y2="422.0" stroke="#2b2b2b" stroke-width="2.20" />
<line x1="1180.0" y1="399.7" x2="1185.3" y2="399.7" stroke="#2b2b2b" stroke-width="2.20" />
<line x1="1178.0" y1="377.4" x2="1192.0" y2="377.4" stroke="#2b2b2b" stroke-width="2.40" />
<line x1="1180.0" y1="355.2" x2="1185.3" y2="355.2" stroke="#2b2b2b" stroke-width="2.20" />
<line x1="1180.0" y1="332.9" x2="1185.3" y2="332.9" stroke="#2b2b2b" stroke-width="2.20" />
<line x1="1180.0" y1="310.6" x2="1185.3" y2="310.6" stroke="#2b2b2b" stroke-width="2.20" />
<line x1="1178.0" y1="288.3" x2="1192.0" y2="288.3" stroke="#2b2b2b" stroke-width="2.40" />
<line x1="1180.0" y1="266.0" x2="1185.3" y2="266.0" stroke="#2b2b2b" stroke-width="2.20" />
<line x1="1180.0" y1="243.7" x2="1185.3" y2="243.7" stroke="#2b2b2b" stroke-width="2.20" />
<line x1="1180.0" y1="221.4" x2="1185.3" y2="221.4" stroke="#2b2b2b" stroke-width="2.20" />
<line x1="1178.0" y1="199.1" x2="1192.0" y2="199.1" stroke="#2b2b2b" stroke-width="2.40" />
<line x1="1180.0" y1="176.8" x2="1185.3" y2="176.8" stroke="#2b2b2b" stroke-width="2.20" />
<line x1="1180.0" y1="154.5" x2="1185.3" y2="154.5" stroke="#2b2b2b" stroke-width="2.20" />
<line x1="1180.0" y1="132.3" x2="1185.3" y2="132.3" stroke="#2b2b2b" stroke-width="2.20" />
<line x1="1178.0" y1="110.0" x2="1192.0" y2="110.0" stroke="#2b2b2b" stroke-width="2.40" />
<line x1="1180.0" y1="87.7" x2="1185.3" y2="87.7" stroke="#2b2b2b" stroke-width="2.20" />
<line x1="1180.0" y1="65.4" x2="1185.3" y2="65.4" stroke="#2b2b2b" stroke-width="2.20" />
<line x1="1180.0" y1="43.1" x2="1185.3" y2="43.1" stroke="#2b2b2b" stroke-width="2.20" />
<line x1="1178.0" y1="20.8" x2="1192.0" y2="20.8" stroke="#2b2b2b" stroke-width="2.40" />
<text x="679.96" y="54.65" font-size="25.07" fill="#626262" font-weight="normal" textLength="36.37" lengthAdjust="spacingAndGlyphs" >160</text>
<text x="677.13" y="159.65" font-size="25.07" fill="#626262" font-weight="normal" textLength="39.27" lengthAdjust="spacingAndGlyphs" >120</text>
<text x="690.56" y="264.65" font-size="25.07" fill="#626262" font-weight="normal" textLength="25.81" lengthAdjust="spacingAndGlyphs" >80</text>
<text x="690.03" y="369.65" font-size="25.07" fill="#626262" font-weight="normal" textLength="26.36" lengthAdjust="spacingAndGlyphs" >40</text>
<text x="701.63" y="474.65" font-size="25.07" fill="#626262" font-weight="normal" textLength="14.83" lengthAdjust="spacingAndGlyphs" >0</text>
<path d="M868.6,490.6 L871.7,488.4 L871.7,505.4" fill="none" stroke="#626262" stroke-width="2.4" stroke-linejoin="round"/>
<text x="720.02" y="505.15" font-size="24.51" fill="#626262" font-weight="normal" textLength="33.90" lengthAdjust="spacingAndGlyphs" >0.7</text>
<text x="992.16" y="505.15" font-size="24.51" fill="#626262" font-weight="normal" textLength="30.42" lengthAdjust="spacingAndGlyphs" >1.3</text>
<text x="1126.15" y="505.15" font-size="24.51" fill="#626262" font-weight="normal" textLength="30.53" lengthAdjust="spacingAndGlyphs" >1.6</text>
<text x="1205.75" y="28.56" font-size="24.23" fill="#626262" font-weight="normal" textLength="38.95" lengthAdjust="spacingAndGlyphs" >100</text>
<text x="1206.48" y="117.72" font-size="24.23" fill="#626262" font-weight="normal" textLength="25.29" lengthAdjust="spacingAndGlyphs" >96</text>
<text x="1206.46" y="206.88" font-size="24.23" fill="#626262" font-weight="normal" textLength="25.75" lengthAdjust="spacingAndGlyphs" >92</text>
<text x="1206.47" y="296.04" font-size="24.23" fill="#626262" font-weight="normal" textLength="25.50" lengthAdjust="spacingAndGlyphs" >88</text>
<text x="1206.48" y="385.20" font-size="24.23" fill="#626262" font-weight="normal" textLength="25.26" lengthAdjust="spacingAndGlyphs" >84</text>
<text x="1206.47" y="474.36" font-size="24.23" fill="#626262" font-weight="normal" textLength="25.38" lengthAdjust="spacingAndGlyphs" >80</text>
<text x="903.74" y="545.01" font-size="23.49" fill="#1c1c1c" font-weight="bold" textLength="173.97" lengthAdjust="spacingAndGlyphs"  stroke="#1c1c1c" stroke-width="0.52" stroke-linejoin="round">Cell Potential, V</text>
<g transform="translate(670.00,341.20) rotate(-90)">
<text x="-0.99" y="0.00" font-size="23.91" fill="#111" font-weight="bold" textLength="197.36" lengthAdjust="spacingAndGlyphs" stroke="#111" stroke-width="0.45">Capacitance, F g</text>
<text x="197.84" y="-9.18" font-size="16.15" fill="#111" font-weight="bold" textLength="11.90" lengthAdjust="spacingAndGlyphs"  stroke="#111" stroke-width="0.36" stroke-linejoin="round">-1</text>
</g>
<g transform="translate(1272.7,305.9) rotate(-90)">
<text x="-1.50" y="0.00" font-size="21.74" fill="#111" font-weight="bold" textLength="140.27" lengthAdjust="spacingAndGlyphs" stroke="#111" stroke-width="0.45">Efficiency, %</text>
</g>
<circle cx="655.8" cy="22.6" r="8.6" fill="none" stroke="#000" stroke-width="5.2"/>
<rect x="644.5" y="3.6" width="5.2" height="29.9" fill="#000"/>
<path d="M781.6,36.2 L790.6,36.5 L799.5,36.8 L808.5,37.1 L817.4,37.4 L826.4,37.7 L835.4,38.0 L844.3,38.3 L853.3,38.6 L862.2,38.9 L871.2,39.2 L880.3,39.5 L889.6,39.9 L899.0,40.3 L908.5,40.7 L917.9,41.1 L927.2,41.5 L936.2,41.9 L944.8,42.2 L953.1,42.5 L960.8,42.7 L965.9,42.8 L970.7,42.8 L975.4,42.9 L979.8,42.9 L984.2,42.8 L988.4,42.8 L992.6,42.8 L996.9,42.9 L1001.2,43.0 L1005.6,43.1 L1010.1,43.3 L1014.6,43.5 L1019.0,43.8 L1023.5,44.0 L1028.0,44.4 L1032.5,44.7 L1037.0,45.0 L1041.4,45.4 L1045.9,45.8 L1050.4,46.2 L1054.9,46.6 L1059.4,47.1 L1063.8,47.6 L1068.3,48.1 L1072.8,48.6 L1077.3,49.2 L1081.8,49.7 L1086.2,50.3 L1090.7,50.8 L1095.2,51.4 L1099.7,52.0 L1104.2,52.5 L1108.6,53.1 L1113.1,53.7 L1117.6,54.3 L1122.1,54.9 L1126.6,55.4 L1131.0,56.0 L1135.5,56.6 L1140.0,57.2" fill="none" stroke="#1a75c2" stroke-width="3.70" stroke-linejoin="round" stroke-linecap="round" />
<path d="M781.6,231.4 L790.6,230.7 L799.5,229.9 L808.5,229.2 L817.4,228.5 L826.4,227.7 L835.4,227.0 L844.3,226.2 L853.3,225.5 L862.2,224.8 L871.2,224.0 L880.3,223.2 L889.6,222.5 L899.1,221.7 L908.5,221.0 L917.9,220.2 L927.2,219.4 L936.2,218.6 L944.9,217.9 L953.1,217.1 L960.8,216.3 L965.9,215.7 L970.8,215.2 L975.4,214.7 L979.8,214.1 L984.2,213.6 L988.4,213.0 L992.7,212.5 L996.9,211.9 L1001.2,211.3 L1005.6,210.7 L1010.1,210.1 L1014.6,209.5 L1019.1,208.9 L1023.5,208.2 L1028.0,207.6 L1032.5,206.9 L1037.0,206.2 L1041.5,205.5 L1045.9,204.8 L1050.4,204.0 L1054.9,203.2 L1059.4,202.4 L1063.9,201.5 L1068.4,200.6 L1072.9,199.7 L1077.3,198.8 L1081.8,197.8 L1086.3,196.7 L1090.7,195.7 L1095.2,194.5 L1099.7,193.2 L1104.2,191.9 L1108.7,190.5 L1113.2,189.1 L1117.6,187.6 L1122.1,186.0 L1126.6,184.5 L1131.1,183.0 L1135.5,181.5 L1140.0,180.0" fill="none" stroke="#1a75c2" stroke-width="3.70" stroke-linejoin="round" stroke-linecap="round" />
<path d="M781.6,76.8 L790.6,78.2 L799.5,79.6 L808.5,81.0 L817.5,82.4 L826.4,83.8 L835.4,85.2 L844.3,86.7 L853.3,88.1 L862.3,89.6 L871.2,91.2 L880.3,92.9 L889.6,94.7 L899.1,96.7 L908.5,98.7 L917.9,100.7 L927.1,102.6 L936.2,104.4 L944.8,106.1 L953.1,107.5 L960.8,108.6 L965.9,109.1 L970.8,109.3 L975.4,109.4 L980.0,109.3 L984.3,109.2 L988.6,109.2 L992.9,109.3 L997.1,109.7 L1001.3,110.4 L1005.6,111.6 L1010.3,113.3 L1015.0,115.2 L1019.6,117.3 L1024.2,119.8 L1028.8,122.5 L1033.3,125.4 L1037.7,128.7 L1042.1,132.2 L1046.3,135.9 L1050.4,140.0 L1055.6,145.9 L1060.9,152.6 L1066.0,160.0 L1071.0,167.9 L1075.9,176.2 L1080.5,184.6 L1084.7,193.1 L1088.7,201.4 L1092.2,209.4 L1095.2,217.0 L1097.2,222.7 L1098.8,228.3 L1100.2,233.9 L1101.3,239.4 L1102.2,244.8 L1103.0,250.3 L1103.8,255.7 L1104.6,261.1 L1105.5,266.5 L1106.5,272.0 L1107.6,277.5 L1108.8,283.0 L1109.9,288.5 L1111.1,294.0 L1112.2,299.5 L1113.4,305.0 L1114.5,310.5 L1115.7,316.0 L1116.8,321.5 L1118.0,327.0 L1119.2,332.5 L1120.3,338.0 L1121.5,343.5 L1122.6,349.0 L1123.8,354.5 L1125.0,360.0 L1126.1,365.5 L1127.3,371.0 L1128.4,376.5 L1129.5,382.0 L1130.6,387.5 L1131.7,392.9 L1132.7,398.4 L1133.8,403.8 L1134.8,409.3 L1135.8,414.8 L1136.9,420.2 L1137.9,425.7 L1139.0,431.1 L1140.0,436.6" fill="none" stroke="#ff1111" stroke-width="3.70" stroke-linejoin="round" stroke-linecap="round" />
<path d="M781.6,175.0 L790.6,173.7 L799.5,172.6 L808.5,171.4 L817.5,170.3 L826.5,169.2 L835.4,168.0 L844.4,166.7 L853.4,165.3 L862.3,163.7 L871.2,162.0 L880.3,160.0 L889.7,157.9 L899.2,155.6 L908.7,153.2 L918.1,150.7 L927.3,148.1 L936.3,145.5 L944.9,142.9 L953.1,140.3 L960.8,137.8 L966.0,136.0 L970.8,134.3 L975.5,132.5 L980.0,130.7 L984.3,129.0 L988.5,127.2 L992.8,125.3 L997.0,123.4 L1001.2,121.5 L1005.6,119.5 L1010.1,117.4 L1014.6,115.2 L1019.1,112.9 L1023.6,110.6 L1028.1,108.3 L1032.5,105.9 L1037.0,103.5 L1041.5,101.1 L1045.9,98.8 L1050.4,96.4 L1054.9,94.1 L1059.4,91.7 L1063.9,89.4 L1068.4,87.1 L1072.9,84.8 L1077.4,82.4 L1081.9,80.0 L1086.3,77.5 L1090.8,75.0 L1095.2,72.4 L1099.7,69.6 L1104.2,66.8 L1108.7,63.9 L1113.2,60.9 L1117.7,57.9 L1122.1,54.8 L1126.6,51.8 L1131.1,48.7 L1135.5,45.7 L1140.0,42.7" fill="none" stroke="#ff1111" stroke-width="3.70" stroke-linejoin="round" stroke-linecap="round" />
<polygon points="781.6,67.3 774.3,83.3 788.9,83.3" fill="#ff1111"/>
<polygon points="871.2,81.7 863.9,97.7 878.5,97.7" fill="#ff1111"/>
<polygon points="960.8,99.1 953.5,115.1 968.1,115.1" fill="#ff1111"/>
<polygon points="1005.6,102.1 998.3,118.1 1012.9,118.1" fill="#ff1111"/>
<polygon points="1050.4,130.5 1043.1,146.5 1057.7,146.5" fill="#ff1111"/>
<polygon points="1095.2,207.5 1087.9,223.5 1102.5,223.5" fill="#ff1111"/>
<polygon points="1140.0,427.1 1132.7,443.1 1147.3,443.1" fill="#ff1111"/>
<polygon points="781.6,165.5 774.3,181.5 788.9,181.5" fill="#ff1111"/>
<polygon points="871.2,152.5 863.9,168.5 878.5,168.5" fill="#ff1111"/>
<polygon points="960.8,128.3 953.5,144.3 968.1,144.3" fill="#ff1111"/>
<polygon points="1005.6,110.0 998.3,126.0 1012.9,126.0" fill="#ff1111"/>
<polygon points="1050.4,86.9 1043.1,102.9 1057.7,102.9" fill="#ff1111"/>
<polygon points="1095.2,62.9 1087.9,78.9 1102.5,78.9" fill="#ff1111"/>
<polygon points="1140.0,33.2 1132.7,49.2 1147.3,49.2" fill="#ff1111"/>
<rect x="773.4" y="28.1" width="16.4" height="16.2" fill="#1a75c2"/>
<rect x="863.0" y="31.1" width="16.4" height="16.2" fill="#1a75c2"/>
<rect x="952.6" y="34.6" width="16.4" height="16.2" fill="#1a75c2"/>
<rect x="997.4" y="35.0" width="16.4" height="16.2" fill="#1a75c2"/>
<rect x="1042.2" y="38.1" width="16.4" height="16.2" fill="#1a75c2"/>
<rect x="1087.0" y="43.3" width="16.4" height="16.2" fill="#1a75c2"/>
<rect x="1131.8" y="49.1" width="16.4" height="16.2" fill="#1a75c2"/>
<rect x="773.4" y="223.3" width="16.4" height="16.2" fill="#1a75c2"/>
<rect x="863.0" y="215.9" width="16.4" height="16.2" fill="#1a75c2"/>
<rect x="952.6" y="208.2" width="16.4" height="16.2" fill="#1a75c2"/>
<rect x="997.4" y="202.6" width="16.4" height="16.2" fill="#1a75c2"/>
<rect x="1042.2" y="195.9" width="16.4" height="16.2" fill="#1a75c2"/>
<rect x="1087.0" y="186.4" width="16.4" height="16.2" fill="#1a75c2"/>
<rect x="1131.8" y="171.9" width="16.4" height="16.2" fill="#1a75c2"/>
<line x1="775.0" y1="175.1" x2="745.0" y2="175.1" stroke="#ff1111" stroke-width="3.40" stroke-linecap="round"/>
<polyline points="757.7,168.2 745.0,175.1 757.7,181.8" fill="none" stroke="#ff1111" stroke-width="3.40" stroke-linejoin="miter" stroke-linecap="round"/>
<line x1="775.0" y1="233.6" x2="745.0" y2="233.6" stroke="#4e80c0" stroke-width="3.40" stroke-linecap="round"/>
<polyline points="757.7,227.3 745.0,233.6 757.7,240.0" fill="none" stroke="#4e80c0" stroke-width="3.40" stroke-linejoin="miter" stroke-linecap="round"/>
<line x1="1152.9" y1="56.9" x2="1178.3" y2="56.9" stroke="#4e80c0" stroke-width="3.40" stroke-linecap="round"/>
<polyline points="1166.3,50.5 1178.3,56.9 1166.3,63.5" fill="none" stroke="#4e80c0" stroke-width="3.40" stroke-linejoin="miter" stroke-linecap="round"/>
<line x1="1153.7" y1="435.4" x2="1179.8" y2="435.4" stroke="#ff1111" stroke-width="3.40" stroke-linecap="round"/>
<polyline points="1167.0,428.4 1179.8,435.4 1167.0,441.8" fill="none" stroke="#ff1111" stroke-width="3.40" stroke-linejoin="miter" stroke-linecap="round"/>
<text x="847.81" y="384.07" font-size="36.87" fill="#1a75c2" font-weight="bold" textLength="12.38" lengthAdjust="spacingAndGlyphs"  stroke="#1a75c2" stroke-width="1.86" stroke-linejoin="round">L</text>
<text x="862.09" y="384.58" font-size="38.15" fill="#1a75c2" font-weight="bold" textLength="9.24" lengthAdjust="spacingAndGlyphs"  stroke="#1a75c2" stroke-width="0.84" stroke-linejoin="round">i</text>
<text x="871.19" y="394.22" font-size="25.07" fill="#1a75c2" font-weight="bold" textLength="14.07" lengthAdjust="spacingAndGlyphs"  stroke="#1a75c2" stroke-width="0.55" stroke-linejoin="round">2</text>
<text x="886.71" y="384.51" font-size="37.70" fill="#1a75c2" font-weight="bold" textLength="48.37" lengthAdjust="spacingAndGlyphs"  stroke="#1a75c2" stroke-width="0.83" stroke-linejoin="round">SO</text>
<text x="935.92" y="393.73" font-size="24.57" fill="#1a75c2" font-weight="bold" textLength="12.95" lengthAdjust="spacingAndGlyphs"  stroke="#1a75c2" stroke-width="0.54" stroke-linejoin="round">4</text>
<text x="847.20" y="431.52" font-size="37.29" fill="#ff1111" font-weight="bold" textLength="92.87" lengthAdjust="spacingAndGlyphs"  stroke="#ff1111" stroke-width="0.82" stroke-linejoin="round">BeSO</text>
<text x="941.92" y="440.73" font-size="24.57" fill="#ff1111" font-weight="bold" textLength="12.95" lengthAdjust="spacingAndGlyphs"  stroke="#ff1111" stroke-width="0.54" stroke-linejoin="round">4</text>
</g></svg></body></html>
